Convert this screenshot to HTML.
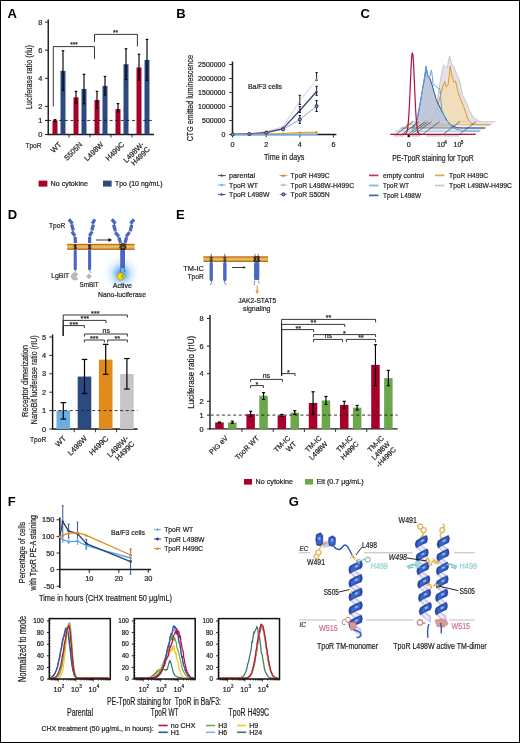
<!DOCTYPE html>
<html><head><meta charset="utf-8"><style>
html,body{margin:0;padding:0;background:#fff;}
#fig{position:relative;width:520px;height:743px;box-sizing:border-box;border:1px solid #000;overflow:hidden;background:#fff;}
#fig svg{position:absolute;left:-1px;top:-1px;will-change:transform;}
text{font-family:"Liberation Sans", sans-serif;}
</style></head><body><div id="fig">
<svg width="520" height="743" viewBox="0 0 520 743">
<defs>
<radialGradient id="glow" cx="50%" cy="50%" r="50%"><stop offset="0%" stop-color="#3ea2f0" stop-opacity="1"/><stop offset="25%" stop-color="#62b4f4" stop-opacity="0.85"/><stop offset="55%" stop-color="#a6d4f8" stop-opacity="0.45"/><stop offset="100%" stop-color="#e4f2fd" stop-opacity="0"/></radialGradient>
<linearGradient id="memb" x1="0" y1="0" x2="0" y2="1"><stop offset="0" stop-color="#c0631c"/><stop offset="0.18" stop-color="#c8751f"/><stop offset="0.3" stop-color="#d3aa48"/><stop offset="0.5" stop-color="#dcbd5e"/><stop offset="0.7" stop-color="#d3aa48"/><stop offset="0.82" stop-color="#c8751f"/><stop offset="1" stop-color="#c0631c"/></linearGradient>
</defs>
<text x="7.60" y="18.40" font-size="13.0" text-anchor="start" fill="#000" font-weight="bold">A</text>
<text x="176.20" y="18.40" font-size="13.0" text-anchor="start" fill="#000" font-weight="bold">B</text>
<text x="360.60" y="18.40" font-size="13.0" text-anchor="start" fill="#000" font-weight="bold">C</text>
<text x="7.70" y="218.90" font-size="13.0" text-anchor="start" fill="#000" font-weight="bold">D</text>
<text x="176.00" y="219.00" font-size="13.0" text-anchor="start" fill="#000" font-weight="bold">E</text>
<text x="7.70" y="505.90" font-size="13.0" text-anchor="start" fill="#000" font-weight="bold">F</text>
<text x="288.80" y="506.30" font-size="13.0" text-anchor="start" fill="#000" font-weight="bold">G</text>
<line x1="48.25" y1="19.40" x2="48.25" y2="135.10" stroke="#1a1a1a" stroke-width="1.4"/>
<line x1="45.00" y1="134.50" x2="48.00" y2="134.50" stroke="#231f20" stroke-width="1.0"/>
<text x="42.40" y="137.10" font-size="7.4" text-anchor="end" fill="#231f20" stroke="#231f20" stroke-width="0.22">0</text>
<line x1="45.00" y1="120.45" x2="48.00" y2="120.45" stroke="#231f20" stroke-width="1.0"/>
<text x="42.40" y="123.05" font-size="7.4" text-anchor="end" fill="#231f20" stroke="#231f20" stroke-width="0.22">1</text>
<line x1="45.00" y1="106.40" x2="48.00" y2="106.40" stroke="#231f20" stroke-width="1.0"/>
<text x="42.40" y="109.00" font-size="7.4" text-anchor="end" fill="#231f20" stroke="#231f20" stroke-width="0.22">2</text>
<line x1="45.00" y1="78.30" x2="48.00" y2="78.30" stroke="#231f20" stroke-width="1.0"/>
<text x="42.40" y="80.90" font-size="7.4" text-anchor="end" fill="#231f20" stroke="#231f20" stroke-width="0.22">4</text>
<line x1="45.00" y1="50.20" x2="48.00" y2="50.20" stroke="#231f20" stroke-width="1.0"/>
<text x="42.40" y="52.80" font-size="7.4" text-anchor="end" fill="#231f20" stroke="#231f20" stroke-width="0.22">6</text>
<line x1="45.00" y1="22.10" x2="48.00" y2="22.10" stroke="#231f20" stroke-width="1.0"/>
<text x="42.40" y="24.70" font-size="7.4" text-anchor="end" fill="#231f20" stroke="#231f20" stroke-width="0.22">8</text>
<line x1="47.50" y1="134.50" x2="154.00" y2="134.50" stroke="#1a1a1a" stroke-width="1.4"/>
<line x1="69.00" y1="134.50" x2="69.00" y2="137.50" stroke="#231f20" stroke-width="0.9"/>
<line x1="90.00" y1="134.50" x2="90.00" y2="137.50" stroke="#231f20" stroke-width="0.9"/>
<line x1="111.00" y1="134.50" x2="111.00" y2="137.50" stroke="#231f20" stroke-width="0.9"/>
<line x1="132.00" y1="134.50" x2="132.00" y2="137.50" stroke="#231f20" stroke-width="0.9"/>
<rect x="52.50" y="120.45" width="5.00" height="14.05" fill="#a6002b"/>
<line x1="55.00" y1="119.61" x2="55.00" y2="121.29" stroke="#000" stroke-width="1.15"/>
<line x1="53.70" y1="119.61" x2="56.30" y2="119.61" stroke="#000" stroke-width="1.15"/>
<line x1="53.70" y1="121.29" x2="56.30" y2="121.29" stroke="#000" stroke-width="1.15"/>
<rect x="60.50" y="70.85" width="5.00" height="63.65" fill="#2c4a82"/>
<line x1="63.00" y1="50.76" x2="63.00" y2="90.38" stroke="#000" stroke-width="1.15"/>
<line x1="61.70" y1="50.76" x2="64.30" y2="50.76" stroke="#000" stroke-width="1.15"/>
<line x1="61.70" y1="90.38" x2="64.30" y2="90.38" stroke="#000" stroke-width="1.15"/>
<rect x="73.50" y="97.41" width="5.00" height="37.09" fill="#a6002b"/>
<line x1="76.00" y1="91.37" x2="76.00" y2="103.31" stroke="#000" stroke-width="1.15"/>
<line x1="74.70" y1="91.37" x2="77.30" y2="91.37" stroke="#000" stroke-width="1.15"/>
<line x1="74.70" y1="103.31" x2="77.30" y2="103.31" stroke="#000" stroke-width="1.15"/>
<rect x="81.50" y="88.98" width="5.00" height="45.52" fill="#2c4a82"/>
<line x1="84.00" y1="74.23" x2="84.00" y2="103.73" stroke="#000" stroke-width="1.15"/>
<line x1="82.70" y1="74.23" x2="85.30" y2="74.23" stroke="#000" stroke-width="1.15"/>
<line x1="82.70" y1="103.73" x2="85.30" y2="103.73" stroke="#000" stroke-width="1.15"/>
<rect x="94.50" y="99.94" width="5.00" height="34.56" fill="#a6002b"/>
<line x1="97.00" y1="91.37" x2="97.00" y2="108.37" stroke="#000" stroke-width="1.15"/>
<line x1="95.70" y1="91.37" x2="98.30" y2="91.37" stroke="#000" stroke-width="1.15"/>
<line x1="95.70" y1="108.37" x2="98.30" y2="108.37" stroke="#000" stroke-width="1.15"/>
<rect x="102.50" y="85.89" width="5.00" height="48.61" fill="#2c4a82"/>
<line x1="105.00" y1="76.47" x2="105.00" y2="94.88" stroke="#000" stroke-width="1.15"/>
<line x1="103.70" y1="76.47" x2="106.30" y2="76.47" stroke="#000" stroke-width="1.15"/>
<line x1="103.70" y1="94.88" x2="106.30" y2="94.88" stroke="#000" stroke-width="1.15"/>
<rect x="115.50" y="109.07" width="5.00" height="25.43" fill="#a6002b"/>
<line x1="118.00" y1="103.59" x2="118.00" y2="112.02" stroke="#000" stroke-width="1.15"/>
<line x1="116.70" y1="103.59" x2="119.30" y2="103.59" stroke="#000" stroke-width="1.15"/>
<line x1="116.70" y1="112.02" x2="119.30" y2="112.02" stroke="#000" stroke-width="1.15"/>
<rect x="123.50" y="64.25" width="5.00" height="70.25" fill="#2c4a82"/>
<line x1="126.00" y1="48.80" x2="126.00" y2="79.56" stroke="#000" stroke-width="1.15"/>
<line x1="124.70" y1="48.80" x2="127.30" y2="48.80" stroke="#000" stroke-width="1.15"/>
<line x1="124.70" y1="79.56" x2="127.30" y2="79.56" stroke="#000" stroke-width="1.15"/>
<rect x="136.50" y="67.48" width="5.00" height="67.02" fill="#a6002b"/>
<line x1="139.00" y1="54.27" x2="139.00" y2="80.27" stroke="#000" stroke-width="1.15"/>
<line x1="137.70" y1="54.27" x2="140.30" y2="54.27" stroke="#000" stroke-width="1.15"/>
<line x1="137.70" y1="80.27" x2="140.30" y2="80.27" stroke="#000" stroke-width="1.15"/>
<rect x="144.50" y="59.89" width="5.00" height="74.61" fill="#2c4a82"/>
<line x1="147.00" y1="39.38" x2="147.00" y2="80.27" stroke="#000" stroke-width="1.15"/>
<line x1="145.70" y1="39.38" x2="148.30" y2="39.38" stroke="#000" stroke-width="1.15"/>
<line x1="145.70" y1="80.27" x2="148.30" y2="80.27" stroke="#000" stroke-width="1.15"/>
<line x1="48.00" y1="120.45" x2="154.00" y2="120.45" stroke="#231f20" stroke-width="0.9" stroke-dasharray="3 2.6"/>
<polyline points="53.30,106.50 53.30,46.60 94.50,46.60 94.50,59.00" stroke="#231f20" fill="none" stroke-width="0.9" stroke-linejoin="round" stroke-linejoin="miter"/>
<text x="74.00" y="47.20" font-size="6.5" text-anchor="middle" fill="#231f20" stroke="#231f20" stroke-width="0.22">***</text>
<polyline points="94.50,42.00 94.50,34.40 137.40,34.40 137.40,46.40" stroke="#231f20" fill="none" stroke-width="0.9" stroke-linejoin="round" stroke-linejoin="miter"/>
<text x="115.50" y="35.00" font-size="6.5" text-anchor="middle" fill="#231f20" stroke="#231f20" stroke-width="0.22">**</text>
<text x="32.40" y="77.00" font-size="9.0" text-anchor="middle" fill="#231f20" stroke="#231f20" stroke-width="0.22" textLength="64" lengthAdjust="spacingAndGlyphs" transform="rotate(-90 32.40 77.00)">Luciferase ratio (rlu)</text>
<text x="25.40" y="148.40" font-size="7.8" text-anchor="start" fill="#231f20" stroke="#231f20" stroke-width="0.22" textLength="16.2" lengthAdjust="spacingAndGlyphs">TpoR</text>
<text x="61.90" y="145.00" font-size="7.4" text-anchor="end" fill="#231f20" stroke="#231f20" stroke-width="0.22" transform="rotate(-45 61.90 145.00)">WT</text>
<text x="82.90" y="145.00" font-size="7.4" text-anchor="end" fill="#231f20" stroke="#231f20" stroke-width="0.22" transform="rotate(-45 82.90 145.00)">S505N</text>
<text x="103.90" y="145.00" font-size="7.4" text-anchor="end" fill="#231f20" stroke="#231f20" stroke-width="0.22" transform="rotate(-45 103.90 145.00)">L498W</text>
<text x="124.90" y="145.00" font-size="7.4" text-anchor="end" fill="#231f20" stroke="#231f20" stroke-width="0.22" transform="rotate(-45 124.90 145.00)">H499C</text>
<text x="144.60" y="145.00" font-size="7.4" text-anchor="end" fill="#231f20" stroke="#231f20" stroke-width="0.22" transform="rotate(-45 144.60 145.00)">L498W-</text>
<text x="150.40" y="149.80" font-size="7.4" text-anchor="end" fill="#231f20" stroke="#231f20" stroke-width="0.22" transform="rotate(-45 150.40 149.80)">H499C</text>
<rect x="38.60" y="180.60" width="8.80" height="6.00" fill="#a6002b"/>
<text x="50.60" y="186.20" font-size="7.2" text-anchor="start" fill="#231f20" stroke="#231f20" stroke-width="0.22" textLength="37.4" lengthAdjust="spacingAndGlyphs">No cytokine</text>
<rect x="103.00" y="180.60" width="8.60" height="6.00" fill="#2c4a82"/>
<text x="115.00" y="186.20" font-size="7.2" text-anchor="start" fill="#231f20" stroke="#231f20" stroke-width="0.22" textLength="47.6" lengthAdjust="spacingAndGlyphs">Tpo (10 ng/mL)</text>
<line x1="232.50" y1="61.60" x2="232.50" y2="135.10" stroke="#1a1a1a" stroke-width="1.5"/>
<line x1="229.20" y1="134.50" x2="232.60" y2="134.50" stroke="#231f20" stroke-width="0.9"/>
<text x="225.40" y="136.90" font-size="7.0" text-anchor="end" fill="#231f20" stroke="#231f20" stroke-width="0.22" textLength="3.9" lengthAdjust="spacingAndGlyphs">0</text>
<line x1="229.20" y1="120.50" x2="232.60" y2="120.50" stroke="#231f20" stroke-width="0.9"/>
<text x="225.40" y="122.90" font-size="7.0" text-anchor="end" fill="#231f20" stroke="#231f20" stroke-width="0.22" textLength="23.4" lengthAdjust="spacingAndGlyphs">500000</text>
<line x1="229.20" y1="106.50" x2="232.60" y2="106.50" stroke="#231f20" stroke-width="0.9"/>
<text x="225.40" y="108.90" font-size="7.0" text-anchor="end" fill="#231f20" stroke="#231f20" stroke-width="0.22" textLength="27.3" lengthAdjust="spacingAndGlyphs">1000000</text>
<line x1="229.20" y1="92.50" x2="232.60" y2="92.50" stroke="#231f20" stroke-width="0.9"/>
<text x="225.40" y="94.90" font-size="7.0" text-anchor="end" fill="#231f20" stroke="#231f20" stroke-width="0.22" textLength="27.3" lengthAdjust="spacingAndGlyphs">1500000</text>
<line x1="229.20" y1="78.50" x2="232.60" y2="78.50" stroke="#231f20" stroke-width="0.9"/>
<text x="225.40" y="80.90" font-size="7.0" text-anchor="end" fill="#231f20" stroke="#231f20" stroke-width="0.22" textLength="27.3" lengthAdjust="spacingAndGlyphs">2000000</text>
<line x1="229.20" y1="64.50" x2="232.60" y2="64.50" stroke="#231f20" stroke-width="0.9"/>
<text x="225.40" y="66.90" font-size="7.0" text-anchor="end" fill="#231f20" stroke="#231f20" stroke-width="0.22" textLength="27.3" lengthAdjust="spacingAndGlyphs">2500000</text>
<line x1="232.10" y1="134.50" x2="336.40" y2="134.50" stroke="#1a1a1a" stroke-width="1.5"/>
<line x1="232.60" y1="134.50" x2="232.60" y2="137.50" stroke="#231f20" stroke-width="0.9"/>
<text x="232.60" y="147.40" font-size="7.2" text-anchor="middle" fill="#231f20" stroke="#231f20" stroke-width="0.22">0</text>
<line x1="266.20" y1="134.50" x2="266.20" y2="137.50" stroke="#231f20" stroke-width="0.9"/>
<text x="266.20" y="147.40" font-size="7.2" text-anchor="middle" fill="#231f20" stroke="#231f20" stroke-width="0.22">2</text>
<line x1="299.80" y1="134.50" x2="299.80" y2="137.50" stroke="#231f20" stroke-width="0.9"/>
<text x="299.80" y="147.40" font-size="7.2" text-anchor="middle" fill="#231f20" stroke="#231f20" stroke-width="0.22">4</text>
<line x1="333.40" y1="134.50" x2="333.40" y2="137.50" stroke="#231f20" stroke-width="0.9"/>
<text x="333.40" y="147.40" font-size="7.2" text-anchor="middle" fill="#231f20" stroke="#231f20" stroke-width="0.22">6</text>
<polyline points="232.60,134.30 249.40,133.60 266.20,131.60 283.00,126.80 299.80,100.90 316.60,79.10" stroke="#c3c3c6" fill="none" stroke-width="0.8" stroke-linejoin="round"/>
<polyline points="232.60,134.40 249.40,134.00 266.20,132.60 283.00,129.30 299.80,119.50 316.60,106.10" stroke="#8f84d6" fill="none" stroke-width="0.9" stroke-linejoin="round"/>
<polyline points="232.60,134.40 249.40,134.00 266.20,132.60 283.00,128.60 299.80,110.50 316.60,91.50" stroke="#2c4a82" fill="none" stroke-width="1.3" stroke-linejoin="round"/>
<polyline points="232.60,134.50 249.40,134.30 266.20,134.00 283.00,133.50 299.80,132.50 316.60,132.20" stroke="#e39a2c" fill="none" stroke-width="1.2" stroke-linejoin="round"/>
<polyline points="232.60,134.60 249.40,134.60 266.20,134.60 283.00,134.60 299.80,134.60 316.60,134.60" stroke="#6caee2" fill="none" stroke-width="1.2" stroke-linejoin="round"/>
<line x1="299.80" y1="95.30" x2="299.80" y2="104.40" stroke="#000" stroke-width="0.9"/>
<line x1="298.60" y1="95.30" x2="301.00" y2="95.30" stroke="#000" stroke-width="0.9"/>
<line x1="298.60" y1="104.40" x2="301.00" y2="104.40" stroke="#000" stroke-width="0.9"/>
<line x1="316.60" y1="72.60" x2="316.60" y2="80.20" stroke="#000" stroke-width="0.9"/>
<line x1="315.40" y1="72.60" x2="317.80" y2="72.60" stroke="#000" stroke-width="0.9"/>
<line x1="315.40" y1="80.20" x2="317.80" y2="80.20" stroke="#000" stroke-width="0.9"/>
<line x1="299.80" y1="106.60" x2="299.80" y2="112.60" stroke="#000" stroke-width="0.9"/>
<line x1="298.60" y1="106.60" x2="301.00" y2="106.60" stroke="#000" stroke-width="0.9"/>
<line x1="298.60" y1="112.60" x2="301.00" y2="112.60" stroke="#000" stroke-width="0.9"/>
<line x1="316.60" y1="86.40" x2="316.60" y2="95.30" stroke="#000" stroke-width="0.9"/>
<line x1="315.40" y1="86.40" x2="317.80" y2="86.40" stroke="#000" stroke-width="0.9"/>
<line x1="315.40" y1="95.30" x2="317.80" y2="95.30" stroke="#000" stroke-width="0.9"/>
<line x1="299.80" y1="115.50" x2="299.80" y2="123.40" stroke="#000" stroke-width="0.9"/>
<line x1="298.60" y1="115.50" x2="301.00" y2="115.50" stroke="#000" stroke-width="0.9"/>
<line x1="298.60" y1="123.40" x2="301.00" y2="123.40" stroke="#000" stroke-width="0.9"/>
<line x1="316.60" y1="100.60" x2="316.60" y2="111.50" stroke="#000" stroke-width="0.9"/>
<line x1="315.40" y1="100.60" x2="317.80" y2="100.60" stroke="#000" stroke-width="0.9"/>
<line x1="315.40" y1="111.50" x2="317.80" y2="111.50" stroke="#000" stroke-width="0.9"/>
<circle cx="232.60" cy="134.50" r="1.1" fill="#e08b1b"/>
<circle cx="232.60" cy="134.60" r="1.1" fill="#6caee2"/>
<polygon points="232.60,132.80 231.10,135.50 234.10,135.50" fill="#2c4a82" stroke="none" stroke-width="1" stroke-linejoin="round"/>
<line x1="231.30" y1="134.30" x2="233.90" y2="134.30" stroke="#9c9ca0" stroke-width="0.7"/>
<line x1="232.60" y1="133.00" x2="232.60" y2="135.60" stroke="#9c9ca0" stroke-width="0.7"/>
<circle cx="232.60" cy="134.40" r="1.6" fill="#8f84d6" stroke="#1c1c3a" stroke-width="0.8"/>
<circle cx="249.40" cy="134.30" r="1.1" fill="#e08b1b"/>
<circle cx="249.40" cy="134.60" r="1.1" fill="#6caee2"/>
<polygon points="249.40,132.40 247.90,135.10 250.90,135.10" fill="#2c4a82" stroke="none" stroke-width="1" stroke-linejoin="round"/>
<line x1="248.10" y1="133.60" x2="250.70" y2="133.60" stroke="#9c9ca0" stroke-width="0.7"/>
<line x1="249.40" y1="132.30" x2="249.40" y2="134.90" stroke="#9c9ca0" stroke-width="0.7"/>
<circle cx="249.40" cy="134.00" r="1.6" fill="#8f84d6" stroke="#1c1c3a" stroke-width="0.8"/>
<circle cx="266.20" cy="134.00" r="1.1" fill="#e08b1b"/>
<circle cx="266.20" cy="134.60" r="1.1" fill="#6caee2"/>
<polygon points="266.20,131.00 264.70,133.70 267.70,133.70" fill="#2c4a82" stroke="none" stroke-width="1" stroke-linejoin="round"/>
<line x1="264.90" y1="131.60" x2="267.50" y2="131.60" stroke="#9c9ca0" stroke-width="0.7"/>
<line x1="266.20" y1="130.30" x2="266.20" y2="132.90" stroke="#9c9ca0" stroke-width="0.7"/>
<circle cx="266.20" cy="132.60" r="1.6" fill="#8f84d6" stroke="#1c1c3a" stroke-width="0.8"/>
<circle cx="283.00" cy="133.50" r="1.1" fill="#e08b1b"/>
<circle cx="283.00" cy="134.60" r="1.1" fill="#6caee2"/>
<polygon points="283.00,127.00 281.50,129.70 284.50,129.70" fill="#2c4a82" stroke="none" stroke-width="1" stroke-linejoin="round"/>
<line x1="281.70" y1="126.80" x2="284.30" y2="126.80" stroke="#9c9ca0" stroke-width="0.7"/>
<line x1="283.00" y1="125.50" x2="283.00" y2="128.10" stroke="#9c9ca0" stroke-width="0.7"/>
<circle cx="283.00" cy="129.30" r="1.6" fill="#8f84d6" stroke="#1c1c3a" stroke-width="0.8"/>
<circle cx="299.80" cy="132.50" r="1.1" fill="#e08b1b"/>
<circle cx="299.80" cy="134.60" r="1.1" fill="#6caee2"/>
<polygon points="299.80,108.90 298.30,111.60 301.30,111.60" fill="#2c4a82" stroke="none" stroke-width="1" stroke-linejoin="round"/>
<line x1="298.50" y1="100.90" x2="301.10" y2="100.90" stroke="#9c9ca0" stroke-width="0.7"/>
<line x1="299.80" y1="99.60" x2="299.80" y2="102.20" stroke="#9c9ca0" stroke-width="0.7"/>
<circle cx="299.80" cy="119.50" r="1.6" fill="#8f84d6" stroke="#1c1c3a" stroke-width="0.8"/>
<circle cx="316.60" cy="132.20" r="1.1" fill="#e08b1b"/>
<circle cx="316.60" cy="134.60" r="1.1" fill="#6caee2"/>
<polygon points="316.60,89.90 315.10,92.60 318.10,92.60" fill="#2c4a82" stroke="none" stroke-width="1" stroke-linejoin="round"/>
<line x1="315.30" y1="79.10" x2="317.90" y2="79.10" stroke="#9c9ca0" stroke-width="0.7"/>
<line x1="316.60" y1="77.80" x2="316.60" y2="80.40" stroke="#9c9ca0" stroke-width="0.7"/>
<circle cx="316.60" cy="106.10" r="1.6" fill="#8f84d6" stroke="#1c1c3a" stroke-width="0.8"/>
<text x="248.00" y="89.00" font-size="7.2" text-anchor="start" fill="#231f20" stroke="#231f20" stroke-width="0.22" textLength="34" lengthAdjust="spacingAndGlyphs">Ba/F3 cells</text>
<text x="284.20" y="160.10" font-size="9.5" text-anchor="middle" fill="#231f20" stroke="#231f20" stroke-width="0.22" textLength="40.4" lengthAdjust="spacingAndGlyphs">Time in days</text>
<text x="192.80" y="98.20" font-size="9.0" text-anchor="middle" fill="#231f20" stroke="#231f20" stroke-width="0.22" textLength="86.2" lengthAdjust="spacingAndGlyphs" transform="rotate(-90 192.80 98.20)">CTG emitted luminescence</text>
<line x1="218.00" y1="175.60" x2="225.60" y2="175.60" stroke="#3b4a6b" stroke-width="1.0"/>
<polygon points="221.80,174.10 223.30,175.60 221.80,177.10 220.30,175.60" fill="#3b4a6b" stroke="none" stroke-width="1" stroke-linejoin="round"/>
<text x="229.00" y="178.20" font-size="7.6" text-anchor="start" fill="#231f20" stroke="#231f20" stroke-width="0.22" textLength="26" lengthAdjust="spacingAndGlyphs">parental</text>
<line x1="218.00" y1="185.00" x2="225.60" y2="185.00" stroke="#6caee2" stroke-width="1.0"/>
<polygon points="221.80,183.50 223.30,185.00 221.80,186.50 220.30,185.00" fill="#6caee2" stroke="none" stroke-width="1" stroke-linejoin="round"/>
<text x="229.00" y="187.60" font-size="7.6" text-anchor="start" fill="#231f20" stroke="#231f20" stroke-width="0.22" textLength="29" lengthAdjust="spacingAndGlyphs">TpoR WT</text>
<line x1="218.00" y1="194.40" x2="225.60" y2="194.40" stroke="#2c4a82" stroke-width="1.0"/>
<polygon points="221.80,192.70 220.20,195.50 223.40,195.50" fill="#2c4a82" stroke="none" stroke-width="1" stroke-linejoin="round"/>
<text x="229.00" y="197.00" font-size="7.6" text-anchor="start" fill="#231f20" stroke="#231f20" stroke-width="0.22" textLength="40.4" lengthAdjust="spacingAndGlyphs">TpoR L498W</text>
<line x1="279.60" y1="175.60" x2="287.20" y2="175.60" stroke="#e08b1b" stroke-width="1.0"/>
<polygon points="283.40,173.90 281.80,176.70 285.00,176.70" fill="#e08b1b" stroke="none" stroke-width="1" stroke-linejoin="round"/>
<text x="290.60" y="178.20" font-size="7.6" text-anchor="start" fill="#231f20" stroke="#231f20" stroke-width="0.22" textLength="39" lengthAdjust="spacingAndGlyphs">TpoR H499C</text>
<line x1="279.60" y1="185.00" x2="287.20" y2="185.00" stroke="#c3c3c6" stroke-width="1.0"/>
<line x1="281.90" y1="185.00" x2="284.90" y2="185.00" stroke="#b0b0b4" stroke-width="0.8"/>
<line x1="283.40" y1="183.50" x2="283.40" y2="186.50" stroke="#b0b0b4" stroke-width="0.8"/>
<text x="290.60" y="187.60" font-size="7.6" text-anchor="start" fill="#231f20" stroke="#231f20" stroke-width="0.22" textLength="63.5" lengthAdjust="spacingAndGlyphs">TpoR L498W-H499C</text>
<line x1="279.60" y1="194.40" x2="287.20" y2="194.40" stroke="#8f84d6" stroke-width="1.0"/>
<circle cx="283.40" cy="194.40" r="1.6" fill="#8f84d6" stroke="#1c1c3a" stroke-width="0.8"/>
<text x="290.60" y="197.00" font-size="7.6" text-anchor="start" fill="#231f20" stroke="#231f20" stroke-width="0.22" textLength="39" lengthAdjust="spacingAndGlyphs">TpoR S505N</text>
<polygon points="390.20,134.40 474.80,134.40 495.60,121.60 411.00,121.60" fill="#e9eaee" stroke="none" stroke-width="1" stroke-linejoin="round"/>
<polygon points="390.20,134.40 474.80,134.40 480.00,131.20 395.40,131.20" fill="#f3f4f7" stroke="none" stroke-width="1" stroke-linejoin="round"/>
<polygon points="395.40,131.20 480.00,131.20 485.20,128.00 400.60,128.00" fill="#e3e6ec" stroke="none" stroke-width="1" stroke-linejoin="round"/>
<polygon points="400.60,128.00 485.20,128.00 490.40,124.80 405.80,124.80" fill="#f1f2f5" stroke="none" stroke-width="1" stroke-linejoin="round"/>
<polygon points="405.80,124.80 490.40,124.80 495.60,121.60 411.00,121.60" fill="#e4e4e8" stroke="none" stroke-width="1" stroke-linejoin="round"/>
<polygon points="411.00,121.60 425.00,121.50 432.00,119.00 436.00,110.00 440.00,82.30 443.50,64.80 445.50,67.50 447.20,67.50 449.50,56.00 451.50,63.50 454.20,67.50 455.50,71.00 457.60,76.20 459.60,81.00 462.30,94.40 465.70,101.10 469.00,109.20 473.00,117.30 477.10,120.00 479.80,121.40 495.60,121.60" fill="#e3e3e6" stroke="none" stroke-width="1" stroke-linejoin="round"/>
<polyline points="425.00,121.50 432.00,119.00 436.00,110.00 440.00,82.30 443.50,64.80 445.50,67.50 447.20,67.50 449.50,56.00 451.50,63.50 454.20,67.50 455.50,71.00 457.60,76.20 459.60,81.00 462.30,94.40 465.70,101.10 469.00,109.20 473.00,117.30 477.10,120.00 479.80,121.40" stroke="#c2c2c6" fill="none" stroke-width="0.9" stroke-linejoin="round"/>
<polygon points="405.80,124.80 420.00,124.60 428.00,120.50 432.00,118.50 435.40,113.30 438.00,103.80 440.80,94.40 442.80,86.30 444.80,81.60 446.20,87.00 448.20,84.30 450.20,66.20 452.20,76.90 454.20,82.30 455.60,81.00 457.60,90.40 460.30,98.50 463.60,106.50 465.70,111.90 467.70,118.60 470.40,122.70 474.40,124.60 490.40,124.80" fill="#f1dcbb" stroke="none" stroke-width="1" stroke-linejoin="round"/>
<polyline points="420.00,124.60 428.00,120.50 432.00,118.50 435.40,113.30 438.00,103.80 440.80,94.40 442.80,86.30 444.80,81.60 446.20,87.00 448.20,84.30 450.20,66.20 452.20,76.90 454.20,82.30 455.60,81.00 457.60,90.40 460.30,98.50 463.60,106.50 465.70,111.90 467.70,118.60 470.40,122.70 474.40,124.60 490.40,124.80" stroke="#e0962a" fill="none" stroke-width="1.0" stroke-linejoin="round"/>
<polygon points="400.60,128.00 412.00,127.90 416.00,123.60 418.50,113.00 420.60,100.80 422.90,87.00 424.60,77.90 426.10,67.60 428.00,76.70 429.70,77.90 432.00,84.70 434.30,92.80 436.60,100.80 438.90,105.30 440.80,109.20 443.50,114.60 447.50,121.30 451.50,125.40 457.00,127.70 463.60,128.00 485.20,128.00" fill="#b9c3d8" stroke="none" stroke-width="1" stroke-linejoin="round" fill-opacity="0.9"/>
<polyline points="412.00,127.90 416.00,123.60 418.50,113.00 420.60,100.80 422.90,87.00 424.60,77.90 426.10,67.60 428.00,76.70 429.70,77.90 432.00,84.70 434.30,92.80 436.60,100.80 438.90,105.30 440.80,109.20 443.50,114.60 447.50,121.30 451.50,125.40 457.00,127.70 463.60,128.00 485.20,128.00" stroke="#2f5497" fill="none" stroke-width="1.0" stroke-linejoin="round"/>
<polyline points="412.00,131.10 415.50,124.00 417.20,118.00 419.50,106.50 421.70,95.00 423.50,83.60 425.20,72.20 426.10,65.90 427.50,75.60 429.70,76.70 431.50,69.90 433.20,84.70 435.50,85.90 437.80,88.20 440.00,89.30 441.00,101.00 442.00,110.60 446.00,120.00 451.50,126.70 457.00,129.40 463.60,131.10 480.00,131.20" stroke="#5ba3e4" fill="none" stroke-width="1.0" stroke-linejoin="round"/>
<line x1="395.40" y1="131.20" x2="480.00" y2="131.20" stroke="#8fbbe6" stroke-width="0.8"/>
<line x1="400.60" y1="128.00" x2="485.20" y2="128.00" stroke="#5a76b0" stroke-width="0.8"/>
<line x1="405.80" y1="124.80" x2="490.40" y2="124.80" stroke="#e6a84c" stroke-width="0.8"/>
<line x1="411.00" y1="121.60" x2="495.60" y2="121.60" stroke="#cfcfd3" stroke-width="0.8"/>
<line x1="396.00" y1="134.40" x2="413.00" y2="121.60" stroke="#2a2a2a" stroke-width="0.6"/>
<line x1="402.00" y1="134.40" x2="419.00" y2="121.60" stroke="#2a2a2a" stroke-width="0.6"/>
<line x1="408.20" y1="134.40" x2="425.20" y2="121.60" stroke="#2a2a2a" stroke-width="0.6"/>
<line x1="411.00" y1="134.40" x2="428.00" y2="121.60" stroke="#2a2a2a" stroke-width="0.6"/>
<line x1="414.50" y1="134.40" x2="431.50" y2="121.60" stroke="#2a2a2a" stroke-width="0.6"/>
<line x1="422.60" y1="134.40" x2="439.60" y2="121.60" stroke="#2a2a2a" stroke-width="0.6"/>
<line x1="443.00" y1="134.40" x2="460.00" y2="121.60" stroke="#2a2a2a" stroke-width="0.6"/>
<line x1="459.20" y1="134.40" x2="476.20" y2="121.60" stroke="#2a2a2a" stroke-width="0.6"/>
<polyline points="404.00,134.37 404.30,134.35 404.60,134.32 404.90,134.26 405.20,134.17 405.50,134.03 405.80,133.82 406.10,133.49 406.40,133.02 406.70,132.35 407.00,131.41 407.30,130.13 407.60,128.42 407.90,126.20 408.20,123.37 408.50,119.87 408.80,115.65 409.10,110.69 409.40,105.02 409.70,98.74 410.00,91.98 410.30,84.97 410.60,77.96 410.90,71.25 411.20,65.18 411.50,60.05 411.80,56.16 412.10,53.73 412.40,52.90 412.70,53.73 413.00,56.16 413.30,60.05 413.60,65.18 413.90,71.25 414.20,77.96 414.50,84.97 414.80,91.98 415.10,98.74 415.40,105.02 415.70,110.69 416.00,115.65 416.30,119.87 416.60,123.37 416.90,126.20 417.20,128.42 417.50,130.13 417.80,131.41 418.10,132.35 418.40,133.02 418.70,133.49 419.00,133.82 419.30,134.03 419.60,134.17 419.90,134.26 420.20,134.32 420.50,134.35 420.80,134.37 421.10,134.38 421.40,134.39 421.70,134.40 422.00,134.40" stroke="#b3123e" fill="none" stroke-width="1.2" stroke-linejoin="round"/>
<line x1="390.20" y1="134.40" x2="475.60" y2="134.40" stroke="#b3123e" stroke-width="1.2"/>
<line x1="395.00" y1="135.00" x2="395.00" y2="136.60" stroke="#333" stroke-width="0.5"/>
<line x1="397.00" y1="135.00" x2="397.00" y2="136.60" stroke="#333" stroke-width="0.5"/>
<line x1="399.00" y1="135.00" x2="399.00" y2="136.60" stroke="#333" stroke-width="0.5"/>
<line x1="401.00" y1="135.00" x2="401.00" y2="136.60" stroke="#333" stroke-width="0.5"/>
<line x1="403.00" y1="135.00" x2="403.00" y2="136.60" stroke="#333" stroke-width="0.5"/>
<line x1="409.00" y1="135.00" x2="409.00" y2="136.60" stroke="#333" stroke-width="0.5"/>
<line x1="411.00" y1="135.00" x2="411.00" y2="136.60" stroke="#333" stroke-width="0.5"/>
<line x1="413.00" y1="135.00" x2="413.00" y2="136.60" stroke="#333" stroke-width="0.5"/>
<line x1="415.00" y1="135.00" x2="415.00" y2="136.60" stroke="#333" stroke-width="0.5"/>
<line x1="417.00" y1="135.00" x2="417.00" y2="136.60" stroke="#333" stroke-width="0.5"/>
<line x1="419.00" y1="135.00" x2="419.00" y2="136.60" stroke="#333" stroke-width="0.5"/>
<line x1="427.00" y1="135.00" x2="427.00" y2="136.60" stroke="#333" stroke-width="0.5"/>
<line x1="429.00" y1="135.00" x2="429.00" y2="136.60" stroke="#333" stroke-width="0.5"/>
<line x1="431.00" y1="135.00" x2="431.00" y2="136.60" stroke="#333" stroke-width="0.5"/>
<line x1="433.00" y1="135.00" x2="433.00" y2="136.60" stroke="#333" stroke-width="0.5"/>
<line x1="435.00" y1="135.00" x2="435.00" y2="136.60" stroke="#333" stroke-width="0.5"/>
<line x1="437.00" y1="135.00" x2="437.00" y2="136.60" stroke="#333" stroke-width="0.5"/>
<line x1="439.00" y1="135.00" x2="439.00" y2="136.60" stroke="#333" stroke-width="0.5"/>
<line x1="441.00" y1="135.00" x2="441.00" y2="136.60" stroke="#333" stroke-width="0.5"/>
<line x1="444.00" y1="135.00" x2="444.00" y2="136.60" stroke="#333" stroke-width="0.5"/>
<line x1="446.00" y1="135.00" x2="446.00" y2="136.60" stroke="#333" stroke-width="0.5"/>
<line x1="448.00" y1="135.00" x2="448.00" y2="136.60" stroke="#333" stroke-width="0.5"/>
<line x1="450.00" y1="135.00" x2="450.00" y2="136.60" stroke="#333" stroke-width="0.5"/>
<line x1="452.00" y1="135.00" x2="452.00" y2="136.60" stroke="#333" stroke-width="0.5"/>
<line x1="454.00" y1="135.00" x2="454.00" y2="136.60" stroke="#333" stroke-width="0.5"/>
<line x1="456.00" y1="135.00" x2="456.00" y2="136.60" stroke="#333" stroke-width="0.5"/>
<line x1="458.00" y1="135.00" x2="458.00" y2="136.60" stroke="#333" stroke-width="0.5"/>
<rect x="407.60" y="134.80" width="2.20" height="2.40" fill="#111"/>
<text x="408.70" y="147.20" font-size="7.2" text-anchor="middle" fill="#231f20" stroke="#231f20" stroke-width="0.22">0</text>
<text x="437.00" y="147.20" font-size="7.0" text-anchor="start" fill="#231f20" stroke="#231f20" stroke-width="0.22">10</text>
<text x="444.30" y="143.60" font-size="4.6" text-anchor="start" fill="#231f20" stroke="#231f20" stroke-width="0.22">4</text>
<text x="453.50" y="147.20" font-size="7.0" text-anchor="start" fill="#231f20" stroke="#231f20" stroke-width="0.22">10</text>
<text x="460.80" y="143.60" font-size="4.6" text-anchor="start" fill="#231f20" stroke="#231f20" stroke-width="0.22">5</text>
<text x="433.00" y="160.90" font-size="9.6" text-anchor="middle" fill="#231f20" stroke="#231f20" stroke-width="0.22" textLength="81.5" lengthAdjust="spacingAndGlyphs">PE-TpoR staining for TpoR</text>
<line x1="369.00" y1="175.40" x2="378.40" y2="175.40" stroke="#c0375a" stroke-width="1.7"/>
<text x="383.00" y="177.90" font-size="7.4" text-anchor="start" fill="#231f20" stroke="#231f20" stroke-width="0.22" textLength="41" lengthAdjust="spacingAndGlyphs">empty control</text>
<line x1="369.00" y1="185.50" x2="378.40" y2="185.50" stroke="#7ab3e8" stroke-width="1.7"/>
<text x="383.00" y="188.00" font-size="7.4" text-anchor="start" fill="#231f20" stroke="#231f20" stroke-width="0.22" textLength="26" lengthAdjust="spacingAndGlyphs">TpoR WT</text>
<line x1="369.00" y1="195.40" x2="378.40" y2="195.40" stroke="#4a64a0" stroke-width="1.7"/>
<text x="383.00" y="197.90" font-size="7.4" text-anchor="start" fill="#231f20" stroke="#231f20" stroke-width="0.22" textLength="38" lengthAdjust="spacingAndGlyphs">TpoR L498W</text>
<line x1="435.00" y1="175.40" x2="444.40" y2="175.40" stroke="#e8a64a" stroke-width="1.7"/>
<text x="449.00" y="177.90" font-size="7.4" text-anchor="start" fill="#231f20" stroke="#231f20" stroke-width="0.22" textLength="39" lengthAdjust="spacingAndGlyphs">TpoR H499C</text>
<line x1="435.00" y1="185.50" x2="444.40" y2="185.50" stroke="#c8c8cc" stroke-width="1.7"/>
<text x="449.00" y="188.00" font-size="7.4" text-anchor="start" fill="#231f20" stroke="#231f20" stroke-width="0.22" textLength="63" lengthAdjust="spacingAndGlyphs">TpoR L498W-H499C</text>
<rect x="67.10" y="243.80" width="67.60" height="6.10" fill="url(#memb)"/>
<path d="M67.90 245.00V248.70 M69.50 245.00V248.70 M71.10 245.00V248.70 M72.70 245.00V248.70 M74.30 245.00V248.70 M75.90 245.00V248.70 M77.50 245.00V248.70 M79.10 245.00V248.70 M80.70 245.00V248.70 M82.30 245.00V248.70 M83.90 245.00V248.70 M85.50 245.00V248.70 M87.10 245.00V248.70 M88.70 245.00V248.70 M90.30 245.00V248.70 M91.90 245.00V248.70 M93.50 245.00V248.70 M95.10 245.00V248.70 M96.70 245.00V248.70 M98.30 245.00V248.70 M99.90 245.00V248.70 M101.50 245.00V248.70 M103.10 245.00V248.70 M104.70 245.00V248.70 M106.30 245.00V248.70 M107.90 245.00V248.70 M109.50 245.00V248.70 M111.10 245.00V248.70 M112.70 245.00V248.70 M114.30 245.00V248.70 M115.90 245.00V248.70 M117.50 245.00V248.70 M119.10 245.00V248.70 M120.70 245.00V248.70 M122.30 245.00V248.70 M123.90 245.00V248.70 M125.50 245.00V248.70 M127.10 245.00V248.70 M128.70 245.00V248.70 M130.30 245.00V248.70 M131.90 245.00V248.70 M133.50 245.00V248.70" stroke="#f3dc8e" fill="none" stroke-width="0.5" stroke-opacity="0.6"/>
<line x1="68.80" y1="219.40" x2="72.50" y2="223.60" stroke="#4a68c2" stroke-width="3.3" stroke-linecap="butt"/>
<line x1="71.60" y1="224.60" x2="73.40" y2="230.40" stroke="#4a68c2" stroke-width="3.3" stroke-linecap="butt"/>
<line x1="72.00" y1="231.60" x2="75.00" y2="236.00" stroke="#4a68c2" stroke-width="3.3" stroke-linecap="butt"/>
<line x1="75.10" y1="237.00" x2="75.40" y2="243.00" stroke="#4a68c2" stroke-width="3.3" stroke-linecap="butt"/>
<line x1="72.50" y1="223.60" x2="71.60" y2="224.60" stroke="#333" stroke-width="0.6"/>
<line x1="73.40" y1="230.40" x2="72.00" y2="231.60" stroke="#333" stroke-width="0.6"/>
<line x1="75.00" y1="236.00" x2="75.10" y2="237.00" stroke="#333" stroke-width="0.6"/>
<line x1="75.25" y1="251.00" x2="75.25" y2="268.80" stroke="#4a68c2" stroke-width="3.1" stroke-linecap="round"/>
<line x1="73.65" y1="245.30" x2="76.85" y2="245.80" stroke="#1a1a1a" stroke-width="0.9"/>
<line x1="73.65" y1="246.80" x2="76.85" y2="247.30" stroke="#1a1a1a" stroke-width="0.9"/>
<line x1="73.65" y1="248.30" x2="76.85" y2="248.80" stroke="#1a1a1a" stroke-width="0.9"/>
<line x1="75.25" y1="244.00" x2="75.25" y2="249.50" stroke="#3a2a10" stroke-width="1.6"/>
<path d="M75.2 269.2 q1.2 1.5 -0.4 3.0" stroke="#555" fill="none" stroke-width="0.6"/>
<path d="M78.0 274.2 A3.7 3.7 0 1 0 78.0 278.6 L75.6 276.4 Z" stroke="#8a8a8a" fill="#b9b9b9" stroke-width="0.4"/>
<line x1="95.00" y1="219.40" x2="92.20" y2="223.60" stroke="#4a68c2" stroke-width="3.3" stroke-linecap="butt"/>
<line x1="93.40" y1="224.60" x2="91.80" y2="230.40" stroke="#4a68c2" stroke-width="3.3" stroke-linecap="butt"/>
<line x1="92.20" y1="231.60" x2="89.40" y2="236.00" stroke="#4a68c2" stroke-width="3.3" stroke-linecap="butt"/>
<line x1="89.60" y1="237.00" x2="89.60" y2="243.00" stroke="#4a68c2" stroke-width="3.3" stroke-linecap="butt"/>
<line x1="92.20" y1="223.60" x2="93.40" y2="224.60" stroke="#333" stroke-width="0.6"/>
<line x1="91.80" y1="230.40" x2="92.20" y2="231.60" stroke="#333" stroke-width="0.6"/>
<line x1="89.40" y1="236.00" x2="89.60" y2="237.00" stroke="#333" stroke-width="0.6"/>
<line x1="89.60" y1="251.00" x2="89.60" y2="268.80" stroke="#4a68c2" stroke-width="3.1" stroke-linecap="round"/>
<line x1="88.00" y1="245.30" x2="91.20" y2="245.80" stroke="#1a1a1a" stroke-width="0.9"/>
<line x1="88.00" y1="246.80" x2="91.20" y2="247.30" stroke="#1a1a1a" stroke-width="0.9"/>
<line x1="88.00" y1="248.30" x2="91.20" y2="248.80" stroke="#1a1a1a" stroke-width="0.9"/>
<line x1="89.60" y1="244.00" x2="89.60" y2="249.50" stroke="#3a2a10" stroke-width="1.6"/>
<path d="M89.6 269.2 q-1.0 1.6 0.8 2.6 q1 0.6 0.3 1.6" stroke="#555" fill="none" stroke-width="0.6"/>
<polygon points="89.00,274.00 91.40,276.40 89.00,278.80 86.60,276.40" fill="#b9b9b9" stroke="#8a8a8a" stroke-width="0.4" stroke-linejoin="round"/>
<line x1="96.20" y1="240.00" x2="109.00" y2="240.00" stroke="#444" stroke-width="1.1"/>
<polygon points="112.20,240.00 108.40,238.00 108.40,242.00" fill="#111" stroke="none" stroke-width="1" stroke-linejoin="round"/>
<circle cx="121.4" cy="273.6" r="19" fill="url(#glow)"/>
<line x1="111.80" y1="219.40" x2="115.40" y2="223.60" stroke="#4a68c2" stroke-width="3.3" stroke-linecap="butt"/>
<line x1="113.60" y1="224.80" x2="115.40" y2="231.00" stroke="#4a68c2" stroke-width="3.3" stroke-linecap="butt"/>
<line x1="115.20" y1="232.30" x2="118.80" y2="236.40" stroke="#4a68c2" stroke-width="3.3" stroke-linecap="butt"/>
<line x1="118.80" y1="237.30" x2="120.60" y2="243.00" stroke="#4a68c2" stroke-width="3.3" stroke-linecap="butt"/>
<line x1="115.40" y1="223.60" x2="113.60" y2="224.80" stroke="#333" stroke-width="0.6"/>
<line x1="115.40" y1="231.00" x2="115.20" y2="232.30" stroke="#333" stroke-width="0.6"/>
<line x1="118.80" y1="236.40" x2="118.80" y2="237.30" stroke="#333" stroke-width="0.6"/>
<line x1="134.00" y1="219.40" x2="130.60" y2="223.60" stroke="#4a68c2" stroke-width="3.3" stroke-linecap="butt"/>
<line x1="131.80" y1="224.80" x2="130.20" y2="231.00" stroke="#4a68c2" stroke-width="3.3" stroke-linecap="butt"/>
<line x1="129.60" y1="232.30" x2="126.20" y2="236.40" stroke="#4a68c2" stroke-width="3.3" stroke-linecap="butt"/>
<line x1="126.60" y1="237.30" x2="125.00" y2="243.00" stroke="#4a68c2" stroke-width="3.3" stroke-linecap="butt"/>
<line x1="130.60" y1="223.60" x2="131.80" y2="224.80" stroke="#333" stroke-width="0.6"/>
<line x1="130.20" y1="231.00" x2="129.60" y2="232.30" stroke="#333" stroke-width="0.6"/>
<line x1="126.20" y1="236.40" x2="126.60" y2="237.30" stroke="#333" stroke-width="0.6"/>
<line x1="122.60" y1="250.00" x2="122.60" y2="268.40" stroke="#4a68c2" stroke-width="4.8" stroke-linecap="butt"/>
<rect x="119.60" y="243.90" width="6.60" height="5.80" fill="#2b1d0c" opacity="0.45"/>
<path d="M119.6 244.2 l2.8 1.6 l-2.8 1.6 l2.8 1.6 M126.2 244.2 l-2.8 1.6 l2.8 1.6 l-2.8 1.6 M121.0 243.8 l4.0 0 M121.0 249.4 l4.0 0" stroke="#111" fill="none" stroke-width="0.9"/>
<path d="M121.0 268.6 q-1.6 1.4 -0.6 3.6 M124.0 268.6 q1.6 1.4 0.4 3.6" stroke="#333" fill="none" stroke-width="0.6"/>
<path d="M123.6 274.3 A3.7 3.7 0 1 0 123.6 278.7 L121.2 276.5 Z" stroke="#6b5a00" fill="#f7d500" stroke-width="0.35"/>
<circle cx="123.9" cy="276.5" r="1.5" fill="#f7d500" stroke="#6b5a00" stroke-width="0.3"/>
<text x="65.20" y="227.60" font-size="7.6" text-anchor="end" fill="#231f20" stroke="#231f20" stroke-width="0.22" textLength="16.2" lengthAdjust="spacingAndGlyphs">TpoR</text>
<text x="69.20" y="278.40" font-size="7.6" text-anchor="end" fill="#231f20" stroke="#231f20" stroke-width="0.22" textLength="18" lengthAdjust="spacingAndGlyphs">LgBiT</text>
<text x="79.60" y="287.20" font-size="7.6" text-anchor="start" fill="#231f20" stroke="#231f20" stroke-width="0.22" textLength="19" lengthAdjust="spacingAndGlyphs">SmBiT</text>
<text x="122.30" y="288.20" font-size="7.6" text-anchor="middle" fill="#231f20" stroke="#231f20" stroke-width="0.22" textLength="19.2" lengthAdjust="spacingAndGlyphs">Active</text>
<text x="122.00" y="296.60" font-size="7.6" text-anchor="middle" fill="#231f20" stroke="#231f20" stroke-width="0.22" textLength="48" lengthAdjust="spacingAndGlyphs">Nano-luciferase</text>
<line x1="52.60" y1="334.40" x2="52.60" y2="429.60" stroke="#1a1a1a" stroke-width="1.4"/>
<line x1="49.40" y1="429.00" x2="53.00" y2="429.00" stroke="#231f20" stroke-width="1.0"/>
<text x="46.20" y="431.60" font-size="7.4" text-anchor="end" fill="#231f20" stroke="#231f20" stroke-width="0.22">0</text>
<line x1="49.40" y1="410.60" x2="53.00" y2="410.60" stroke="#231f20" stroke-width="1.0"/>
<text x="46.20" y="413.20" font-size="7.4" text-anchor="end" fill="#231f20" stroke="#231f20" stroke-width="0.22">1</text>
<line x1="49.40" y1="392.20" x2="53.00" y2="392.20" stroke="#231f20" stroke-width="1.0"/>
<text x="46.20" y="394.80" font-size="7.4" text-anchor="end" fill="#231f20" stroke="#231f20" stroke-width="0.22">2</text>
<line x1="49.40" y1="373.80" x2="53.00" y2="373.80" stroke="#231f20" stroke-width="1.0"/>
<text x="46.20" y="376.40" font-size="7.4" text-anchor="end" fill="#231f20" stroke="#231f20" stroke-width="0.22">3</text>
<line x1="49.40" y1="355.40" x2="53.00" y2="355.40" stroke="#231f20" stroke-width="1.0"/>
<text x="46.20" y="358.00" font-size="7.4" text-anchor="end" fill="#231f20" stroke="#231f20" stroke-width="0.22">4</text>
<line x1="49.40" y1="337.00" x2="53.00" y2="337.00" stroke="#231f20" stroke-width="1.0"/>
<text x="46.20" y="339.60" font-size="7.4" text-anchor="end" fill="#231f20" stroke="#231f20" stroke-width="0.22">5</text>
<line x1="52.50" y1="429.00" x2="137.60" y2="429.00" stroke="#1a1a1a" stroke-width="1.4"/>
<line x1="74.20" y1="429.00" x2="74.20" y2="432.20" stroke="#231f20" stroke-width="0.9"/>
<line x1="95.40" y1="429.00" x2="95.40" y2="432.20" stroke="#231f20" stroke-width="0.9"/>
<line x1="116.60" y1="429.00" x2="116.60" y2="432.20" stroke="#231f20" stroke-width="0.9"/>
<rect x="56.50" y="410.60" width="13.60" height="18.40" fill="#6caee2"/>
<rect x="77.70" y="376.56" width="13.60" height="52.44" fill="#2c4a82"/>
<rect x="98.90" y="359.63" width="13.60" height="69.37" fill="#e08b1b"/>
<rect x="120.10" y="373.98" width="13.60" height="55.02" fill="#c6c5c9"/>
<line x1="53.00" y1="410.60" x2="137.60" y2="410.60" stroke="#231f20" stroke-width="0.9" stroke-dasharray="3 2.6"/>
<line x1="63.30" y1="402.69" x2="63.30" y2="419.06" stroke="#000" stroke-width="1.2"/>
<line x1="60.50" y1="402.69" x2="66.10" y2="402.69" stroke="#000" stroke-width="1.2"/>
<line x1="60.50" y1="419.06" x2="66.10" y2="419.06" stroke="#000" stroke-width="1.2"/>
<line x1="84.50" y1="359.45" x2="84.50" y2="393.49" stroke="#000" stroke-width="1.2"/>
<line x1="81.70" y1="359.45" x2="87.30" y2="359.45" stroke="#000" stroke-width="1.2"/>
<line x1="81.70" y1="393.49" x2="87.30" y2="393.49" stroke="#000" stroke-width="1.2"/>
<line x1="105.70" y1="344.36" x2="105.70" y2="374.35" stroke="#000" stroke-width="1.2"/>
<line x1="102.90" y1="344.36" x2="108.50" y2="344.36" stroke="#000" stroke-width="1.2"/>
<line x1="102.90" y1="374.35" x2="108.50" y2="374.35" stroke="#000" stroke-width="1.2"/>
<line x1="126.90" y1="358.53" x2="126.90" y2="389.07" stroke="#000" stroke-width="1.2"/>
<line x1="124.10" y1="358.53" x2="129.70" y2="358.53" stroke="#000" stroke-width="1.2"/>
<line x1="124.10" y1="389.07" x2="129.70" y2="389.07" stroke="#000" stroke-width="1.2"/>
<polyline points="63.20,336.00 63.20,315.00 127.40,315.00 127.40,317.60" stroke="#231f20" fill="none" stroke-width="0.9" stroke-linejoin="round" stroke-linejoin="miter"/>
<polyline points="63.20,336.00 63.20,320.40 106.00,320.40 106.00,323.00" stroke="#231f20" fill="none" stroke-width="0.9" stroke-linejoin="round" stroke-linejoin="miter"/>
<polyline points="63.20,336.00 63.20,325.60 84.40,325.60 84.40,328.00" stroke="#231f20" fill="none" stroke-width="0.9" stroke-linejoin="round" stroke-linejoin="miter"/>
<text x="95.30" y="316.00" font-size="7.2" text-anchor="middle" fill="#231f20" stroke="#231f20" stroke-width="0.22">***</text>
<text x="84.80" y="321.40" font-size="7.2" text-anchor="middle" fill="#231f20" stroke="#231f20" stroke-width="0.22">***</text>
<text x="73.80" y="326.60" font-size="7.2" text-anchor="middle" fill="#231f20" stroke="#231f20" stroke-width="0.22">***</text>
<polyline points="84.40,336.60 84.40,334.00 127.40,334.00 127.40,336.60" stroke="#231f20" fill="none" stroke-width="0.9" stroke-linejoin="round" stroke-linejoin="miter"/>
<text x="106.20" y="333.20" font-size="6.9" text-anchor="middle" fill="#231f20" stroke="#231f20" stroke-width="0.22">ns</text>
<polyline points="84.40,342.40 84.40,340.00 104.40,340.00 104.40,342.40" stroke="#231f20" fill="none" stroke-width="0.9" stroke-linejoin="round" stroke-linejoin="miter"/>
<polyline points="107.60,342.40 107.60,340.00 127.40,340.00 127.40,342.40" stroke="#231f20" fill="none" stroke-width="0.9" stroke-linejoin="round" stroke-linejoin="miter"/>
<text x="94.20" y="340.60" font-size="7.2" text-anchor="middle" fill="#231f20" stroke="#231f20" stroke-width="0.22">***</text>
<text x="117.20" y="340.60" font-size="7.2" text-anchor="middle" fill="#231f20" stroke="#231f20" stroke-width="0.22">**</text>
<text x="28.30" y="381.00" font-size="9.0" text-anchor="middle" fill="#231f20" stroke="#231f20" stroke-width="0.22" textLength="71.8" lengthAdjust="spacingAndGlyphs" transform="rotate(-90 28.30 381.00)">Receptor dimerization</text>
<text x="36.60" y="379.80" font-size="9.0" text-anchor="middle" fill="#231f20" stroke="#231f20" stroke-width="0.22" textLength="88.8" lengthAdjust="spacingAndGlyphs" transform="rotate(-90 36.60 379.80)">NanoBit luciferase ratio (rIU)</text>
<text x="30.00" y="442.20" font-size="7.6" text-anchor="start" fill="#231f20" stroke="#231f20" stroke-width="0.22" textLength="16.2" lengthAdjust="spacingAndGlyphs">TpoR</text>
<text x="66.50" y="439.00" font-size="7.6" text-anchor="end" fill="#231f20" stroke="#231f20" stroke-width="0.22" transform="rotate(-45 66.50 439.00)">WT</text>
<text x="87.70" y="439.00" font-size="7.6" text-anchor="end" fill="#231f20" stroke="#231f20" stroke-width="0.22" transform="rotate(-45 87.70 439.00)">L498W</text>
<text x="108.90" y="439.00" font-size="7.6" text-anchor="end" fill="#231f20" stroke="#231f20" stroke-width="0.22" transform="rotate(-45 108.90 439.00)">H499C</text>
<text x="129.00" y="439.00" font-size="7.6" text-anchor="end" fill="#231f20" stroke="#231f20" stroke-width="0.22" transform="rotate(-45 129.00 439.00)">L498W-</text>
<text x="135.00" y="444.40" font-size="7.6" text-anchor="end" fill="#231f20" stroke="#231f20" stroke-width="0.22" transform="rotate(-45 135.00 444.40)">H499C</text>
<rect x="203.40" y="256.30" width="64.60" height="5.70" fill="url(#memb)"/>
<path d="M204.20 257.50V260.80 M205.80 257.50V260.80 M207.40 257.50V260.80 M209.00 257.50V260.80 M210.60 257.50V260.80 M212.20 257.50V260.80 M213.80 257.50V260.80 M215.40 257.50V260.80 M217.00 257.50V260.80 M218.60 257.50V260.80 M220.20 257.50V260.80 M221.80 257.50V260.80 M223.40 257.50V260.80 M225.00 257.50V260.80 M226.60 257.50V260.80 M228.20 257.50V260.80 M229.80 257.50V260.80 M231.40 257.50V260.80 M233.00 257.50V260.80 M234.60 257.50V260.80 M236.20 257.50V260.80 M237.80 257.50V260.80 M239.40 257.50V260.80 M241.00 257.50V260.80 M242.60 257.50V260.80 M244.20 257.50V260.80 M245.80 257.50V260.80 M247.40 257.50V260.80 M249.00 257.50V260.80 M250.60 257.50V260.80 M252.20 257.50V260.80 M253.80 257.50V260.80 M255.40 257.50V260.80 M257.00 257.50V260.80 M258.60 257.50V260.80 M260.20 257.50V260.80 M261.80 257.50V260.80 M263.40 257.50V260.80 M265.00 257.50V260.80 M266.60 257.50V260.80" stroke="#f3dc8e" fill="none" stroke-width="0.5" stroke-opacity="0.6"/>
<line x1="211.20" y1="263.40" x2="211.20" y2="279.40" stroke="#4a68c2" stroke-width="3.4" stroke-linecap="round"/>
<line x1="211.20" y1="253.80" x2="211.20" y2="262.00" stroke="#222" stroke-width="0.7"/>
<line x1="209.60" y1="257.40" x2="212.80" y2="257.80" stroke="#1a1a1a" stroke-width="0.8"/>
<line x1="209.60" y1="259.00" x2="212.80" y2="259.40" stroke="#1a1a1a" stroke-width="0.8"/>
<line x1="209.60" y1="260.60" x2="212.80" y2="261.00" stroke="#1a1a1a" stroke-width="0.8"/>
<line x1="224.85" y1="263.40" x2="224.85" y2="279.40" stroke="#4a68c2" stroke-width="3.4" stroke-linecap="round"/>
<line x1="224.85" y1="253.80" x2="224.85" y2="262.00" stroke="#222" stroke-width="0.7"/>
<line x1="223.25" y1="257.40" x2="226.45" y2="257.80" stroke="#1a1a1a" stroke-width="0.8"/>
<line x1="223.25" y1="259.00" x2="226.45" y2="259.40" stroke="#1a1a1a" stroke-width="0.8"/>
<line x1="223.25" y1="260.60" x2="226.45" y2="261.00" stroke="#1a1a1a" stroke-width="0.8"/>
<path d="M211.2 280.4 q1.4 1.8 -0.2 3.2 q-0.8 0.8 -0.2 1.6" stroke="#333" fill="none" stroke-width="0.6"/>
<path d="M224.8 280.4 q-1.4 1.8 0.4 3.0 q1 0.8 0.2 2.0" stroke="#333" fill="none" stroke-width="0.6"/>
<line x1="232.00" y1="267.50" x2="244.00" y2="267.50" stroke="#222" stroke-width="0.9"/>
<polygon points="246.00,267.50 243.20,266.20 243.20,268.80" fill="#222" stroke="none" stroke-width="1" stroke-linejoin="round"/>
<line x1="256.70" y1="262.80" x2="256.70" y2="279.60" stroke="#4a68c2" stroke-width="5.0" stroke-linecap="butt"/>
<rect x="254.2" y="262.2" width="5" height="17.8" rx="1.2" fill="#4a68c2"/>
<line x1="255.00" y1="253.80" x2="255.00" y2="262.00" stroke="#222" stroke-width="0.6"/>
<line x1="258.20" y1="253.80" x2="258.20" y2="262.00" stroke="#222" stroke-width="0.6"/>
<rect x="253.60" y="256.40" width="6.20" height="5.40" fill="#2b1d0c" opacity="0.4"/>
<path d="M253.6 257.2 l2.4 1.6 l-2.4 1.6 l2.4 1.4 M259.8 257.2 l-2.4 1.6 l2.4 1.6 l-2.4 1.4 M255.2 256.6 l1.5 0 M257.6 256.6 l1.5 0 M255.4 261.6 l3.6 0" stroke="#111" fill="none" stroke-width="0.9"/>
<path d="M255.0 280.6 q-1.6 1.6 -0.4 3.0 q0.6 0.8 -0.8 1.8 M258.2 280.6 q1.8 1.4 0.4 3.0" stroke="#333" fill="none" stroke-width="0.6"/>
<line x1="257.20" y1="285.60" x2="257.20" y2="291.20" stroke="#b08a3a" stroke-width="0.9"/>
<polygon points="257.20,294.60 255.30,290.60 259.10,290.60" fill="#e8a21e" stroke="none" stroke-width="1" stroke-linejoin="round"/>
<text x="203.80" y="271.00" font-size="7.6" text-anchor="end" fill="#231f20" stroke="#231f20" stroke-width="0.22" textLength="20.5" lengthAdjust="spacingAndGlyphs">TM-IC</text>
<text x="203.80" y="279.20" font-size="7.6" text-anchor="end" fill="#231f20" stroke="#231f20" stroke-width="0.22" textLength="16.4" lengthAdjust="spacingAndGlyphs">TpoR</text>
<text x="257.20" y="302.50" font-size="7.6" text-anchor="middle" fill="#231f20" stroke="#231f20" stroke-width="0.22" textLength="38" lengthAdjust="spacingAndGlyphs">JAK2-STAT5</text>
<text x="256.70" y="311.10" font-size="7.6" text-anchor="middle" fill="#231f20" stroke="#231f20" stroke-width="0.22" textLength="27.4" lengthAdjust="spacingAndGlyphs">signaling</text>
<line x1="210.00" y1="315.00" x2="210.00" y2="429.50" stroke="#1a1a1a" stroke-width="1.4"/>
<line x1="207.00" y1="428.90" x2="210.00" y2="428.90" stroke="#231f20" stroke-width="1.0"/>
<text x="203.60" y="431.50" font-size="7.4" text-anchor="end" fill="#231f20" stroke="#231f20" stroke-width="0.22">0</text>
<line x1="207.00" y1="415.10" x2="210.00" y2="415.10" stroke="#231f20" stroke-width="1.0"/>
<text x="203.60" y="417.70" font-size="7.4" text-anchor="end" fill="#231f20" stroke="#231f20" stroke-width="0.22">1</text>
<line x1="207.00" y1="401.30" x2="210.00" y2="401.30" stroke="#231f20" stroke-width="1.0"/>
<text x="203.60" y="403.90" font-size="7.4" text-anchor="end" fill="#231f20" stroke="#231f20" stroke-width="0.22">2</text>
<line x1="207.00" y1="373.70" x2="210.00" y2="373.70" stroke="#231f20" stroke-width="1.0"/>
<text x="203.60" y="376.30" font-size="7.4" text-anchor="end" fill="#231f20" stroke="#231f20" stroke-width="0.22">4</text>
<line x1="207.00" y1="346.10" x2="210.00" y2="346.10" stroke="#231f20" stroke-width="1.0"/>
<text x="203.60" y="348.70" font-size="7.4" text-anchor="end" fill="#231f20" stroke="#231f20" stroke-width="0.22">6</text>
<line x1="207.00" y1="318.50" x2="210.00" y2="318.50" stroke="#231f20" stroke-width="1.0"/>
<text x="203.60" y="321.10" font-size="7.4" text-anchor="end" fill="#231f20" stroke="#231f20" stroke-width="0.22">8</text>
<line x1="209.50" y1="428.90" x2="397.60" y2="428.90" stroke="#1a1a1a" stroke-width="1.4"/>
<line x1="242.00" y1="428.90" x2="242.00" y2="432.10" stroke="#231f20" stroke-width="0.9"/>
<line x1="273.20" y1="428.90" x2="273.20" y2="432.10" stroke="#231f20" stroke-width="0.9"/>
<line x1="304.40" y1="428.90" x2="304.40" y2="432.10" stroke="#231f20" stroke-width="0.9"/>
<line x1="335.60" y1="428.90" x2="335.60" y2="432.10" stroke="#231f20" stroke-width="0.9"/>
<line x1="366.80" y1="428.90" x2="366.80" y2="432.10" stroke="#231f20" stroke-width="0.9"/>
<rect x="215.20" y="422.41" width="8.50" height="6.49" fill="#a6002b"/>
<rect x="228.10" y="422.41" width="8.50" height="6.49" fill="#6aa84a"/>
<rect x="246.40" y="414.13" width="8.50" height="14.77" fill="#a6002b"/>
<rect x="259.30" y="395.78" width="8.50" height="33.12" fill="#6aa84a"/>
<rect x="277.60" y="415.51" width="8.50" height="13.39" fill="#a6002b"/>
<rect x="290.50" y="412.62" width="8.50" height="16.28" fill="#6aa84a"/>
<rect x="308.80" y="402.96" width="8.50" height="25.94" fill="#a6002b"/>
<rect x="321.70" y="400.47" width="8.50" height="28.43" fill="#6aa84a"/>
<rect x="340.00" y="404.89" width="8.50" height="24.01" fill="#a6002b"/>
<rect x="352.90" y="407.65" width="8.50" height="21.25" fill="#6aa84a"/>
<rect x="371.20" y="364.87" width="8.50" height="64.03" fill="#a6002b"/>
<rect x="384.10" y="378.12" width="8.50" height="50.78" fill="#6aa84a"/>
<line x1="210.80" y1="415.10" x2="397.60" y2="415.10" stroke="#231f20" stroke-width="0.9" stroke-dasharray="3 2.6"/>
<line x1="219.45" y1="422.00" x2="219.45" y2="422.83" stroke="#000" stroke-width="1.15"/>
<line x1="217.85" y1="422.00" x2="221.05" y2="422.00" stroke="#000" stroke-width="1.15"/>
<line x1="217.85" y1="422.83" x2="221.05" y2="422.83" stroke="#000" stroke-width="1.15"/>
<line x1="232.35" y1="421.17" x2="232.35" y2="423.38" stroke="#000" stroke-width="1.15"/>
<line x1="230.75" y1="421.17" x2="233.95" y2="421.17" stroke="#000" stroke-width="1.15"/>
<line x1="230.75" y1="423.38" x2="233.95" y2="423.38" stroke="#000" stroke-width="1.15"/>
<line x1="250.65" y1="411.24" x2="250.65" y2="416.48" stroke="#000" stroke-width="1.15"/>
<line x1="249.05" y1="411.24" x2="252.25" y2="411.24" stroke="#000" stroke-width="1.15"/>
<line x1="249.05" y1="416.48" x2="252.25" y2="416.48" stroke="#000" stroke-width="1.15"/>
<line x1="263.55" y1="392.61" x2="263.55" y2="399.51" stroke="#000" stroke-width="1.15"/>
<line x1="261.95" y1="392.61" x2="265.15" y2="392.61" stroke="#000" stroke-width="1.15"/>
<line x1="261.95" y1="399.51" x2="265.15" y2="399.51" stroke="#000" stroke-width="1.15"/>
<line x1="281.85" y1="414.41" x2="281.85" y2="416.48" stroke="#000" stroke-width="1.15"/>
<line x1="280.25" y1="414.41" x2="283.45" y2="414.41" stroke="#000" stroke-width="1.15"/>
<line x1="280.25" y1="416.48" x2="283.45" y2="416.48" stroke="#000" stroke-width="1.15"/>
<line x1="294.75" y1="410.68" x2="294.75" y2="414.41" stroke="#000" stroke-width="1.15"/>
<line x1="293.15" y1="410.68" x2="296.35" y2="410.68" stroke="#000" stroke-width="1.15"/>
<line x1="293.15" y1="414.41" x2="296.35" y2="414.41" stroke="#000" stroke-width="1.15"/>
<line x1="313.05" y1="391.78" x2="313.05" y2="414.13" stroke="#000" stroke-width="1.15"/>
<line x1="311.45" y1="391.78" x2="314.65" y2="391.78" stroke="#000" stroke-width="1.15"/>
<line x1="311.45" y1="414.13" x2="314.65" y2="414.13" stroke="#000" stroke-width="1.15"/>
<line x1="325.95" y1="396.47" x2="325.95" y2="404.47" stroke="#000" stroke-width="1.15"/>
<line x1="324.35" y1="396.47" x2="327.55" y2="396.47" stroke="#000" stroke-width="1.15"/>
<line x1="324.35" y1="404.47" x2="327.55" y2="404.47" stroke="#000" stroke-width="1.15"/>
<line x1="344.25" y1="401.30" x2="344.25" y2="408.48" stroke="#000" stroke-width="1.15"/>
<line x1="342.65" y1="401.30" x2="345.85" y2="401.30" stroke="#000" stroke-width="1.15"/>
<line x1="342.65" y1="408.48" x2="345.85" y2="408.48" stroke="#000" stroke-width="1.15"/>
<line x1="357.15" y1="405.44" x2="357.15" y2="409.99" stroke="#000" stroke-width="1.15"/>
<line x1="355.55" y1="405.44" x2="358.75" y2="405.44" stroke="#000" stroke-width="1.15"/>
<line x1="355.55" y1="409.99" x2="358.75" y2="409.99" stroke="#000" stroke-width="1.15"/>
<line x1="375.45" y1="344.72" x2="375.45" y2="385.57" stroke="#000" stroke-width="1.15"/>
<line x1="373.85" y1="344.72" x2="377.05" y2="344.72" stroke="#000" stroke-width="1.15"/>
<line x1="373.85" y1="385.57" x2="377.05" y2="385.57" stroke="#000" stroke-width="1.15"/>
<line x1="388.35" y1="370.39" x2="388.35" y2="385.71" stroke="#000" stroke-width="1.15"/>
<line x1="386.75" y1="370.39" x2="389.95" y2="370.39" stroke="#000" stroke-width="1.15"/>
<line x1="386.75" y1="385.71" x2="389.95" y2="385.71" stroke="#000" stroke-width="1.15"/>
<polyline points="250.60,381.80 250.60,379.40 282.40,379.40 282.40,381.80" stroke="#231f20" fill="none" stroke-width="0.9" stroke-linejoin="round" stroke-linejoin="miter"/>
<text x="266.40" y="377.60" font-size="6.9" text-anchor="middle" fill="#231f20" stroke="#231f20" stroke-width="0.22">ns</text>
<polyline points="250.60,388.00 250.60,385.60 263.40,385.60 263.40,388.00" stroke="#231f20" fill="none" stroke-width="0.9" stroke-linejoin="round" stroke-linejoin="miter"/>
<text x="257.00" y="386.60" font-size="7.2" text-anchor="middle" fill="#231f20" stroke="#231f20" stroke-width="0.22">*</text>
<polyline points="281.60,376.00 281.60,373.60 295.00,373.60 295.00,376.00" stroke="#231f20" fill="none" stroke-width="0.9" stroke-linejoin="round" stroke-linejoin="miter"/>
<text x="288.40" y="374.80" font-size="7.2" text-anchor="middle" fill="#231f20" stroke="#231f20" stroke-width="0.22">*</text>
<polyline points="281.60,376.00 281.60,319.40 375.60,319.40 375.60,322.40" stroke="#231f20" fill="none" stroke-width="0.9" stroke-linejoin="round" stroke-linejoin="miter"/>
<text x="328.60" y="320.40" font-size="7.2" text-anchor="middle" fill="#231f20" stroke="#231f20" stroke-width="0.22">**</text>
<polyline points="281.60,376.00 281.60,324.40 344.80,324.40 344.80,327.00" stroke="#231f20" fill="none" stroke-width="0.9" stroke-linejoin="round" stroke-linejoin="miter"/>
<text x="313.40" y="325.40" font-size="7.2" text-anchor="middle" fill="#231f20" stroke="#231f20" stroke-width="0.22">**</text>
<polyline points="281.60,376.00 281.60,329.60 313.60,329.60 313.60,332.00" stroke="#231f20" fill="none" stroke-width="0.9" stroke-linejoin="round" stroke-linejoin="miter"/>
<text x="298.20" y="330.60" font-size="7.2" text-anchor="middle" fill="#231f20" stroke="#231f20" stroke-width="0.22">**</text>
<polyline points="313.60,337.00 313.60,334.60 375.60,334.60 375.60,337.00" stroke="#231f20" fill="none" stroke-width="0.9" stroke-linejoin="round" stroke-linejoin="miter"/>
<text x="344.40" y="335.60" font-size="7.2" text-anchor="middle" fill="#231f20" stroke="#231f20" stroke-width="0.22">*</text>
<polyline points="313.60,342.00 313.60,339.40 342.60,339.40 342.60,342.00" stroke="#231f20" fill="none" stroke-width="0.9" stroke-linejoin="round" stroke-linejoin="miter"/>
<text x="328.40" y="338.00" font-size="6.9" text-anchor="middle" fill="#231f20" stroke="#231f20" stroke-width="0.22">ns</text>
<polyline points="346.40,342.00 346.40,339.40 375.60,339.40 375.60,342.00" stroke="#231f20" fill="none" stroke-width="0.9" stroke-linejoin="round" stroke-linejoin="miter"/>
<text x="361.00" y="340.40" font-size="7.2" text-anchor="middle" fill="#231f20" stroke="#231f20" stroke-width="0.22">**</text>
<text x="193.70" y="372.30" font-size="9.0" text-anchor="middle" fill="#231f20" stroke="#231f20" stroke-width="0.22" textLength="73" lengthAdjust="spacingAndGlyphs" transform="rotate(-90 193.70 372.30)">Luciferase ratio (rIU)</text>
<text x="228.50" y="438.60" font-size="7.2" text-anchor="end" fill="#231f20" stroke="#231f20" stroke-width="0.22" transform="rotate(-45 228.50 438.60)">PIG eV</text>
<text x="259.70" y="438.60" font-size="7.2" text-anchor="end" fill="#231f20" stroke="#231f20" stroke-width="0.22" transform="rotate(-45 259.70 438.60)">TpoR WT</text>
<text x="290.90" y="438.60" font-size="7.2" text-anchor="end" fill="#231f20" stroke="#231f20" stroke-width="0.22" transform="rotate(-45 290.90 438.60)">TM-IC</text>
<text x="296.90" y="444.40" font-size="7.2" text-anchor="end" fill="#231f20" stroke="#231f20" stroke-width="0.22" transform="rotate(-45 296.90 444.40)">WT</text>
<text x="322.10" y="438.60" font-size="7.2" text-anchor="end" fill="#231f20" stroke="#231f20" stroke-width="0.22" transform="rotate(-45 322.10 438.60)">TM-IC</text>
<text x="328.10" y="444.40" font-size="7.2" text-anchor="end" fill="#231f20" stroke="#231f20" stroke-width="0.22" transform="rotate(-45 328.10 444.40)">L498W</text>
<text x="353.30" y="438.60" font-size="7.2" text-anchor="end" fill="#231f20" stroke="#231f20" stroke-width="0.22" transform="rotate(-45 353.30 438.60)">TM-IC</text>
<text x="359.30" y="444.40" font-size="7.2" text-anchor="end" fill="#231f20" stroke="#231f20" stroke-width="0.22" transform="rotate(-45 359.30 444.40)">H499C</text>
<text x="384.50" y="438.60" font-size="7.2" text-anchor="end" fill="#231f20" stroke="#231f20" stroke-width="0.22" transform="rotate(-45 384.50 438.60)">TM-IC</text>
<text x="390.50" y="444.40" font-size="7.2" text-anchor="end" fill="#231f20" stroke="#231f20" stroke-width="0.22" transform="rotate(-45 390.50 444.40)">L498W</text>
<text x="396.50" y="450.20" font-size="7.2" text-anchor="end" fill="#231f20" stroke="#231f20" stroke-width="0.22" transform="rotate(-45 396.50 450.20)">-H499C</text>
<rect x="244.00" y="479.00" width="8.00" height="5.60" fill="#a6002b"/>
<text x="255.60" y="484.40" font-size="7.4" text-anchor="start" fill="#231f20" stroke="#231f20" stroke-width="0.22" textLength="37.4" lengthAdjust="spacingAndGlyphs">No cytokine</text>
<rect x="305.00" y="479.00" width="8.00" height="5.60" fill="#6aa84a"/>
<text x="316.60" y="484.40" font-size="7.4" text-anchor="start" fill="#231f20" stroke="#231f20" stroke-width="0.22" textLength="47" lengthAdjust="spacingAndGlyphs">Elt (0.7 μg/mL)</text>
<line x1="59.80" y1="517.40" x2="59.80" y2="588.00" stroke="#1a1a1a" stroke-width="1.5"/>
<line x1="56.60" y1="586.20" x2="59.80" y2="586.20" stroke="#231f20" stroke-width="1.0"/>
<text x="54.40" y="588.80" font-size="7.4" text-anchor="end" fill="#231f20" stroke="#231f20" stroke-width="0.22">-50</text>
<line x1="56.60" y1="569.60" x2="59.80" y2="569.60" stroke="#231f20" stroke-width="1.0"/>
<text x="54.40" y="572.20" font-size="7.4" text-anchor="end" fill="#231f20" stroke="#231f20" stroke-width="0.22">0</text>
<line x1="56.60" y1="553.00" x2="59.80" y2="553.00" stroke="#231f20" stroke-width="1.0"/>
<text x="54.40" y="555.60" font-size="7.4" text-anchor="end" fill="#231f20" stroke="#231f20" stroke-width="0.22">50</text>
<line x1="56.60" y1="536.40" x2="59.80" y2="536.40" stroke="#231f20" stroke-width="1.0"/>
<text x="54.40" y="539.00" font-size="7.4" text-anchor="end" fill="#231f20" stroke="#231f20" stroke-width="0.22">100</text>
<line x1="56.60" y1="519.80" x2="59.80" y2="519.80" stroke="#231f20" stroke-width="1.0"/>
<text x="54.40" y="522.40" font-size="7.4" text-anchor="end" fill="#231f20" stroke="#231f20" stroke-width="0.22">150</text>
<line x1="59.30" y1="569.60" x2="151.00" y2="569.60" stroke="#1a1a1a" stroke-width="1.5"/>
<line x1="89.30" y1="569.60" x2="89.30" y2="572.80" stroke="#231f20" stroke-width="1.0"/>
<text x="89.30" y="580.60" font-size="7.4" text-anchor="middle" fill="#231f20" stroke="#231f20" stroke-width="0.22">10</text>
<line x1="118.80" y1="569.60" x2="118.80" y2="572.80" stroke="#231f20" stroke-width="1.0"/>
<text x="118.80" y="580.60" font-size="7.4" text-anchor="middle" fill="#231f20" stroke="#231f20" stroke-width="0.22">20</text>
<line x1="148.30" y1="569.60" x2="148.30" y2="572.80" stroke="#231f20" stroke-width="1.0"/>
<text x="148.30" y="580.60" font-size="7.4" text-anchor="middle" fill="#231f20" stroke="#231f20" stroke-width="0.22">30</text>
<line x1="62.75" y1="505.70" x2="62.75" y2="536.00" stroke="#23427e" stroke-width="0.9"/>
<line x1="61.85" y1="505.70" x2="63.65" y2="505.70" stroke="#23427e" stroke-width="0.9"/>
<line x1="61.85" y1="536.00" x2="63.65" y2="536.00" stroke="#23427e" stroke-width="0.9"/>
<line x1="68.65" y1="524.20" x2="68.65" y2="538.00" stroke="#23427e" stroke-width="0.9"/>
<line x1="67.75" y1="524.20" x2="69.55" y2="524.20" stroke="#23427e" stroke-width="0.9"/>
<line x1="67.75" y1="538.00" x2="69.55" y2="538.00" stroke="#23427e" stroke-width="0.9"/>
<line x1="77.50" y1="522.20" x2="77.50" y2="541.00" stroke="#23427e" stroke-width="0.9"/>
<line x1="76.60" y1="522.20" x2="78.40" y2="522.20" stroke="#23427e" stroke-width="0.9"/>
<line x1="76.60" y1="541.00" x2="78.40" y2="541.00" stroke="#23427e" stroke-width="0.9"/>
<line x1="86.35" y1="539.40" x2="86.35" y2="548.00" stroke="#23427e" stroke-width="0.9"/>
<line x1="85.45" y1="539.40" x2="87.25" y2="539.40" stroke="#23427e" stroke-width="0.9"/>
<line x1="85.45" y1="548.00" x2="87.25" y2="548.00" stroke="#23427e" stroke-width="0.9"/>
<line x1="130.60" y1="549.00" x2="130.60" y2="574.00" stroke="#23427e" stroke-width="0.9"/>
<line x1="129.70" y1="549.00" x2="131.50" y2="549.00" stroke="#23427e" stroke-width="0.9"/>
<line x1="129.70" y1="574.00" x2="131.50" y2="574.00" stroke="#23427e" stroke-width="0.9"/>
<line x1="62.75" y1="537.00" x2="62.75" y2="542.20" stroke="#5ba6e6" stroke-width="0.9"/>
<line x1="61.85" y1="537.00" x2="63.65" y2="537.00" stroke="#5ba6e6" stroke-width="0.9"/>
<line x1="61.85" y1="542.20" x2="63.65" y2="542.20" stroke="#5ba6e6" stroke-width="0.9"/>
<line x1="68.65" y1="540.00" x2="68.65" y2="543.20" stroke="#5ba6e6" stroke-width="0.9"/>
<line x1="67.75" y1="540.00" x2="69.55" y2="540.00" stroke="#5ba6e6" stroke-width="0.9"/>
<line x1="67.75" y1="543.20" x2="69.55" y2="543.20" stroke="#5ba6e6" stroke-width="0.9"/>
<line x1="77.50" y1="538.00" x2="77.50" y2="544.20" stroke="#5ba6e6" stroke-width="0.9"/>
<line x1="76.60" y1="538.00" x2="78.40" y2="538.00" stroke="#5ba6e6" stroke-width="0.9"/>
<line x1="76.60" y1="544.20" x2="78.40" y2="544.20" stroke="#5ba6e6" stroke-width="0.9"/>
<line x1="86.35" y1="542.00" x2="86.35" y2="549.60" stroke="#5ba6e6" stroke-width="0.9"/>
<line x1="85.45" y1="542.00" x2="87.25" y2="542.00" stroke="#5ba6e6" stroke-width="0.9"/>
<line x1="85.45" y1="549.60" x2="87.25" y2="549.60" stroke="#5ba6e6" stroke-width="0.9"/>
<line x1="130.60" y1="555.00" x2="130.60" y2="561.00" stroke="#5ba6e6" stroke-width="0.9"/>
<line x1="129.70" y1="555.00" x2="131.50" y2="555.00" stroke="#5ba6e6" stroke-width="0.9"/>
<line x1="129.70" y1="561.00" x2="131.50" y2="561.00" stroke="#5ba6e6" stroke-width="0.9"/>
<line x1="130.60" y1="549.40" x2="130.60" y2="560.60" stroke="#e08b1b" stroke-width="0.9"/>
<line x1="129.70" y1="549.40" x2="131.50" y2="549.40" stroke="#e08b1b" stroke-width="0.9"/>
<line x1="129.70" y1="560.60" x2="131.50" y2="560.60" stroke="#e08b1b" stroke-width="0.9"/>
<polyline points="59.80,536.80 62.75,539.60 68.65,541.90 77.50,541.20 86.35,545.70 130.60,558.00" stroke="#5ba6e6" fill="none" stroke-width="1.3" stroke-linejoin="round"/>
<polygon points="59.80,535.30 61.30,536.80 59.80,538.30 58.30,536.80" fill="#5ba6e6" stroke="none" stroke-width="1" stroke-linejoin="round"/>
<polygon points="62.75,538.10 64.25,539.60 62.75,541.10 61.25,539.60" fill="#5ba6e6" stroke="none" stroke-width="1" stroke-linejoin="round"/>
<polygon points="68.65,540.40 70.15,541.90 68.65,543.40 67.15,541.90" fill="#5ba6e6" stroke="none" stroke-width="1" stroke-linejoin="round"/>
<polygon points="77.50,539.70 79.00,541.20 77.50,542.70 76.00,541.20" fill="#5ba6e6" stroke="none" stroke-width="1" stroke-linejoin="round"/>
<polygon points="86.35,544.20 87.85,545.70 86.35,547.20 84.85,545.70" fill="#5ba6e6" stroke="none" stroke-width="1" stroke-linejoin="round"/>
<polygon points="130.60,556.50 132.10,558.00 130.60,559.50 129.10,558.00" fill="#5ba6e6" stroke="none" stroke-width="1" stroke-linejoin="round"/>
<polyline points="59.80,536.80 62.75,521.70 68.65,531.10 77.50,533.50 86.35,543.60 130.60,561.60" stroke="#23427e" fill="none" stroke-width="1.3" stroke-linejoin="round"/>
<circle cx="59.80" cy="536.80" r="1.3" fill="#23427e"/>
<circle cx="62.75" cy="521.70" r="1.3" fill="#23427e"/>
<circle cx="68.65" cy="531.10" r="1.3" fill="#23427e"/>
<circle cx="77.50" cy="533.50" r="1.3" fill="#23427e"/>
<circle cx="86.35" cy="543.60" r="1.3" fill="#23427e"/>
<circle cx="130.60" cy="561.60" r="1.3" fill="#23427e"/>
<polyline points="59.80,536.80 62.75,535.20 68.65,533.30 77.50,532.70 86.35,535.40 130.60,555.00" stroke="#e08b1b" fill="none" stroke-width="1.3" stroke-linejoin="round"/>
<polygon points="59.80,535.10 58.20,537.90 61.40,537.90" fill="#e08b1b" stroke="none" stroke-width="1" stroke-linejoin="round"/>
<polygon points="62.75,533.50 61.15,536.30 64.35,536.30" fill="#e08b1b" stroke="none" stroke-width="1" stroke-linejoin="round"/>
<polygon points="68.65,531.60 67.05,534.40 70.25,534.40" fill="#e08b1b" stroke="none" stroke-width="1" stroke-linejoin="round"/>
<polygon points="77.50,531.00 75.90,533.80 79.10,533.80" fill="#e08b1b" stroke="none" stroke-width="1" stroke-linejoin="round"/>
<polygon points="86.35,533.70 84.75,536.50 87.95,536.50" fill="#e08b1b" stroke="none" stroke-width="1" stroke-linejoin="round"/>
<polygon points="130.60,553.30 129.00,556.10 132.20,556.10" fill="#e08b1b" stroke="none" stroke-width="1" stroke-linejoin="round"/>
<text x="111.00" y="534.80" font-size="7.6" text-anchor="start" fill="#231f20" stroke="#231f20" stroke-width="0.22" textLength="34" lengthAdjust="spacingAndGlyphs">Ba/F3 cells</text>
<line x1="154.00" y1="529.60" x2="161.00" y2="529.60" stroke="#5ba6e6" stroke-width="1.0"/>
<polygon points="157.50,528.10 159.00,529.60 157.50,531.10 156.00,529.60" fill="#5ba6e6" stroke="none" stroke-width="1" stroke-linejoin="round"/>
<text x="164.20" y="532.20" font-size="7.6" text-anchor="start" fill="#231f20" stroke="#231f20" stroke-width="0.22" textLength="29" lengthAdjust="spacingAndGlyphs">TpoR WT</text>
<line x1="154.00" y1="539.00" x2="161.00" y2="539.00" stroke="#23427e" stroke-width="1.0"/>
<circle cx="157.5" cy="539.0" r="1.4" fill="#23427e"/>
<text x="164.20" y="541.60" font-size="7.6" text-anchor="start" fill="#231f20" stroke="#231f20" stroke-width="0.22" textLength="40.4" lengthAdjust="spacingAndGlyphs">TpoR L498W</text>
<line x1="154.00" y1="548.60" x2="161.00" y2="548.60" stroke="#e08b1b" stroke-width="1.0"/>
<polygon points="157.50,546.90 155.90,549.70 159.10,549.70" fill="#e08b1b" stroke="none" stroke-width="1" stroke-linejoin="round"/>
<text x="164.20" y="551.20" font-size="7.6" text-anchor="start" fill="#231f20" stroke="#231f20" stroke-width="0.22" textLength="39" lengthAdjust="spacingAndGlyphs">TpoR H499C</text>
<text x="25.30" y="552.50" font-size="8.6" text-anchor="middle" fill="#231f20" stroke="#231f20" stroke-width="0.22" textLength="61.3" lengthAdjust="spacingAndGlyphs" transform="rotate(-90 25.30 552.50)">Percentage of cells</text>
<text x="35.60" y="552.80" font-size="8.6" text-anchor="middle" fill="#231f20" stroke="#231f20" stroke-width="0.22" textLength="75.4" lengthAdjust="spacingAndGlyphs" transform="rotate(-90 35.60 552.80)">with TpoR PE-A staining</text>
<text x="105.50" y="600.60" font-size="9.4" text-anchor="middle" fill="#231f20" stroke="#231f20" stroke-width="0.22" textLength="133" lengthAdjust="spacingAndGlyphs">Time in hours (CHX treatment 50 μg/mL)</text>
<polyline points="49.90,677.69 50.39,677.53 50.88,677.34 51.37,677.11 51.86,676.81 52.35,676.49 52.84,676.12 53.33,675.45 53.82,675.06 54.31,674.13 54.80,673.38 55.29,672.63 55.78,671.17 56.27,670.36 56.76,668.51 57.25,667.43 57.74,665.71 58.23,663.24 58.72,660.29 59.21,659.67 59.70,657.14 60.19,653.55 60.68,650.09 61.17,648.58 61.66,646.53 62.15,642.31 62.64,642.54 63.13,637.86 63.62,637.34 64.11,635.82 64.60,634.21 65.09,632.25 65.58,629.71 66.07,630.82 66.56,629.29 67.05,629.23 67.54,631.14 68.03,632.81 68.52,637.30 69.01,641.09 69.50,644.92 69.99,648.03 70.48,653.26 70.97,657.84 71.46,661.15 71.95,664.93 72.44,668.15 72.93,670.14 73.42,672.32 73.91,674.20 74.40,675.27 74.89,676.20 75.38,676.86 75.87,677.32 76.36,677.64 76.85,677.85 77.34,677.99 77.83,678.07 78.32,678.13 78.81,678.16 79.30,678.18 79.79,678.19 80.28,678.19 80.77,678.20 81.26,678.20 81.75,678.20 82.24,678.20 82.73,678.20 83.22,678.20 83.71,678.20 84.20,678.20 84.69,678.20 85.18,678.20 85.67,678.20 86.16,678.20 86.65,678.20 87.14,678.20 87.63,678.20 88.12,678.20 88.61,678.20 89.10,678.20 89.59,678.20 90.08,678.20 90.57,678.20 91.06,678.20 91.55,678.20 92.04,678.20 92.53,678.20 93.02,678.20 93.51,678.20 94.00,678.20 94.49,678.20 94.98,678.20 95.47,678.20 95.96,678.20 96.45,678.20 96.94,678.20 97.43,678.20 97.92,678.20 98.41,678.20 98.90,678.20 99.39,678.20 99.88,678.20 100.37,678.20 100.86,678.20 101.35,678.20 101.84,678.20 102.33,678.20 102.82,678.20 103.31,678.20 103.80,678.20 104.29,678.20 104.78,678.20 105.27,678.20 105.76,678.20 106.25,678.20 106.74,678.20 107.23,678.20 107.72,678.20 108.21,678.20 108.70,678.20" stroke="#3d7a5a" fill="none" stroke-width="1.25" stroke-linejoin="round"/>
<polyline points="49.90,677.73 50.39,677.59 50.88,677.41 51.37,677.19 51.86,676.91 52.35,676.57 52.84,676.05 53.33,675.58 53.82,675.17 54.31,674.10 54.80,673.82 55.29,672.67 55.78,671.24 56.27,670.66 56.76,668.84 57.25,668.00 57.74,665.17 58.23,662.99 58.72,661.30 59.21,658.18 59.70,657.47 60.19,653.71 60.68,651.49 61.17,648.91 61.66,646.70 62.15,642.74 62.64,639.81 63.13,639.01 63.62,636.05 64.11,636.07 64.60,632.00 65.09,630.63 65.58,628.18 66.07,627.88 66.56,629.22 67.05,628.72 67.54,628.44 68.03,632.50 68.52,633.77 69.01,638.41 69.50,642.77 69.99,647.50 70.48,649.65 70.97,656.38 71.46,660.03 71.95,663.37 72.44,665.79 72.93,669.81 73.42,671.58 73.91,673.32 74.40,674.56 74.89,675.70 75.38,676.58 75.87,677.13 76.36,677.51 76.85,677.76 77.34,677.93 77.83,678.04 78.32,678.10 78.81,678.15 79.30,678.17 79.79,678.18 80.28,678.19 80.77,678.20 81.26,678.20 81.75,678.20 82.24,678.20 82.73,678.20 83.22,678.20 83.71,678.20 84.20,678.20 84.69,678.20 85.18,678.20 85.67,678.20 86.16,678.20 86.65,678.20 87.14,678.20 87.63,678.20 88.12,678.20 88.61,678.20 89.10,678.20 89.59,678.20 90.08,678.20 90.57,678.20 91.06,678.20 91.55,678.20 92.04,678.20 92.53,678.20 93.02,678.20 93.51,678.20 94.00,678.20 94.49,678.20 94.98,678.20 95.47,678.20 95.96,678.20 96.45,678.20 96.94,678.20 97.43,678.20 97.92,678.20 98.41,678.20 98.90,678.20 99.39,678.20 99.88,678.20 100.37,678.20 100.86,678.20 101.35,678.20 101.84,678.20 102.33,678.20 102.82,678.20 103.31,678.20 103.80,678.20 104.29,678.20 104.78,678.20 105.27,678.20 105.76,678.20 106.25,678.20 106.74,678.20 107.23,678.20 107.72,678.20 108.21,678.20 108.70,678.20" stroke="#2f55a4" fill="none" stroke-width="1.25" stroke-linejoin="round"/>
<polyline points="49.90,678.20 50.39,678.20 50.88,678.19 51.37,678.19 51.86,678.18 52.35,678.18 52.84,678.16 53.33,678.14 53.82,678.11 54.31,678.06 54.80,678.00 55.29,677.90 55.78,677.77 56.27,677.59 56.76,677.34 57.25,677.01 57.74,676.57 58.23,675.92 58.72,675.33 59.21,674.38 59.70,673.28 60.19,671.57 60.68,669.78 61.17,668.53 61.66,666.29 62.15,663.70 62.64,660.87 63.13,657.25 63.62,653.59 64.11,650.77 64.60,647.69 65.09,643.05 65.58,639.60 66.07,635.79 66.56,631.87 67.05,629.90 67.54,628.26 68.03,626.60 68.52,625.71 69.01,627.20 69.50,626.93 69.99,630.54 70.48,634.97 70.97,640.66 71.46,647.52 71.95,653.38 72.44,659.39 72.93,663.22 73.42,667.91 73.91,670.96 74.40,673.22 74.89,674.95 75.38,676.11 75.87,676.91 76.36,677.44 76.85,677.77 77.34,677.96 77.83,678.07 78.32,678.14 78.81,678.17 79.30,678.18 79.79,678.19 80.28,678.20 80.77,678.20 81.26,678.20 81.75,678.20 82.24,678.20 82.73,678.20 83.22,678.20 83.71,678.20 84.20,678.20 84.69,678.20 85.18,678.20 85.67,678.20 86.16,678.20 86.65,678.20 87.14,678.20 87.63,678.20 88.12,678.20 88.61,678.20 89.10,678.20 89.59,678.20 90.08,678.20 90.57,678.20 91.06,678.20 91.55,678.20 92.04,678.20 92.53,678.20 93.02,678.20 93.51,678.20 94.00,678.20 94.49,678.20 94.98,678.20 95.47,678.20 95.96,678.20 96.45,678.20 96.94,678.20 97.43,678.20 97.92,678.20 98.41,678.20 98.90,678.20 99.39,678.20 99.88,678.20 100.37,678.20 100.86,678.20 101.35,678.20 101.84,678.20 102.33,678.20 102.82,678.20 103.31,678.20 103.80,678.20 104.29,678.20 104.78,678.20 105.27,678.20 105.76,678.20 106.25,678.20 106.74,678.20 107.23,678.20 107.72,678.20 108.21,678.20 108.70,678.20" stroke="#a7a0e0" fill="none" stroke-width="1.25" stroke-linejoin="round"/>
<polyline points="49.90,678.20 50.39,678.20 50.88,678.20 51.37,678.20 51.86,678.20 52.35,678.20 52.84,678.20 53.33,678.20 53.82,678.20 54.31,678.20 54.80,678.19 55.29,678.19 55.78,678.18 56.27,678.16 56.76,678.14 57.25,678.10 57.74,678.03 58.23,677.92 58.72,677.76 59.21,677.52 59.70,677.17 60.19,676.66 60.68,676.04 61.17,675.13 61.66,673.86 62.15,672.28 62.64,670.11 63.13,667.85 63.62,664.02 64.11,660.68 64.60,657.35 65.09,652.76 65.58,647.86 66.07,642.98 66.56,638.61 67.05,632.86 67.54,628.64 68.03,626.33 68.52,623.99 69.01,623.44 69.50,623.39 69.99,624.87 70.48,628.80 70.97,633.08 71.46,640.45 71.95,647.28 72.44,652.11 72.93,658.76 73.42,664.26 73.91,668.00 74.40,671.50 74.89,673.62 75.38,675.20 75.87,676.39 76.36,677.17 76.85,677.62 77.34,677.88 77.83,678.03 78.32,678.12 78.81,678.16 79.30,678.18 79.79,678.19 80.28,678.20 80.77,678.20 81.26,678.20 81.75,678.20 82.24,678.20 82.73,678.20 83.22,678.20 83.71,678.20 84.20,678.20 84.69,678.20 85.18,678.20 85.67,678.20 86.16,678.20 86.65,678.20 87.14,678.20 87.63,678.20 88.12,678.20 88.61,678.20 89.10,678.20 89.59,678.20 90.08,678.20 90.57,678.20 91.06,678.20 91.55,678.20 92.04,678.20 92.53,678.20 93.02,678.20 93.51,678.20 94.00,678.20 94.49,678.20 94.98,678.20 95.47,678.20 95.96,678.20 96.45,678.20 96.94,678.20 97.43,678.20 97.92,678.20 98.41,678.20 98.90,678.20 99.39,678.20 99.88,678.20 100.37,678.20 100.86,678.20 101.35,678.20 101.84,678.20 102.33,678.20 102.82,678.20 103.31,678.20 103.80,678.20 104.29,678.20 104.78,678.20 105.27,678.20 105.76,678.20 106.25,678.20 106.74,678.20 107.23,678.20 107.72,678.20 108.21,678.20 108.70,678.20" stroke="#f2c523" fill="none" stroke-width="1.25" stroke-linejoin="round"/>
<polyline points="49.90,678.20 50.39,678.19 50.88,678.19 51.37,678.19 51.86,678.18 52.35,678.17 52.84,678.15 53.33,678.12 53.82,678.09 54.31,678.04 54.80,677.96 55.29,677.86 55.78,677.71 56.27,677.52 56.76,677.26 57.25,676.92 57.74,676.47 58.23,675.85 58.72,675.25 59.21,674.32 59.70,673.32 60.19,671.63 60.68,670.17 61.17,668.03 61.66,666.33 62.15,664.04 62.64,660.32 63.13,656.81 63.62,653.68 64.11,650.30 64.60,646.64 65.09,643.15 65.58,640.70 66.07,636.52 66.56,633.62 67.05,631.45 67.54,628.97 68.03,626.42 68.52,625.09 69.01,623.35 69.50,622.80 69.99,625.84 70.48,628.41 70.97,633.45 71.46,639.61 71.95,647.43 72.44,654.07 72.93,659.72 73.42,664.60 73.91,668.54 74.40,671.31 74.89,673.54 75.38,675.27 75.87,676.47 76.36,677.19 76.85,677.63 77.34,677.89 77.83,678.04 78.32,678.12 78.81,678.16 79.30,678.18 79.79,678.19 80.28,678.20 80.77,678.20 81.26,678.20 81.75,678.20 82.24,678.20 82.73,678.20 83.22,678.20 83.71,678.20 84.20,678.20 84.69,678.20 85.18,678.20 85.67,678.20 86.16,678.20 86.65,678.20 87.14,678.20 87.63,678.20 88.12,678.20 88.61,678.20 89.10,678.20 89.59,678.20 90.08,678.20 90.57,678.20 91.06,678.20 91.55,678.20 92.04,678.20 92.53,678.20 93.02,678.20 93.51,678.20 94.00,678.20 94.49,678.20 94.98,678.20 95.47,678.20 95.96,678.20 96.45,678.20 96.94,678.20 97.43,678.20 97.92,678.20 98.41,678.20 98.90,678.20 99.39,678.20 99.88,678.20 100.37,678.20 100.86,678.20 101.35,678.20 101.84,678.20 102.33,678.20 102.82,678.20 103.31,678.20 103.80,678.20 104.29,678.20 104.78,678.20 105.27,678.20 105.76,678.20 106.25,678.20 106.74,678.20 107.23,678.20 107.72,678.20 108.21,678.20 108.70,678.20" stroke="#6bb04a" fill="none" stroke-width="1.25" stroke-linejoin="round"/>
<polyline points="49.90,678.16 50.39,678.15 50.88,678.13 51.37,678.10 51.86,678.06 52.35,678.00 52.84,677.92 53.33,677.82 53.82,677.69 54.31,677.51 54.80,677.29 55.29,677.00 55.78,676.63 56.27,676.18 56.76,675.58 57.25,674.84 57.74,674.28 58.23,673.04 58.72,671.71 59.21,670.39 59.70,668.82 60.19,667.29 60.68,665.69 61.17,662.62 61.66,660.92 62.15,657.40 62.64,654.13 63.13,652.53 63.62,649.49 64.11,645.17 64.60,642.63 65.09,640.94 65.58,638.21 66.07,635.53 66.56,631.44 67.05,629.65 67.54,629.56 68.03,626.78 68.52,625.70 69.01,626.22 69.50,628.04 69.99,630.68 70.48,636.37 70.97,642.47 71.46,646.58 71.95,653.60 72.44,659.67 72.93,664.11 73.42,668.79 73.91,671.60 74.40,673.96 74.89,675.73 75.38,676.69 75.87,677.34 76.36,677.73 76.85,677.95 77.34,678.08 77.83,678.14 78.32,678.17 78.81,678.19 79.30,678.19 79.79,678.20 80.28,678.20 80.77,678.20 81.26,678.20 81.75,678.20 82.24,678.20 82.73,678.20 83.22,678.20 83.71,678.20 84.20,678.20 84.69,678.20 85.18,678.20 85.67,678.20 86.16,678.20 86.65,678.20 87.14,678.20 87.63,678.20 88.12,678.20 88.61,678.20 89.10,678.20 89.59,678.20 90.08,678.20 90.57,678.20 91.06,678.20 91.55,678.20 92.04,678.20 92.53,678.20 93.02,678.20 93.51,678.20 94.00,678.20 94.49,678.20 94.98,678.20 95.47,678.20 95.96,678.20 96.45,678.20 96.94,678.20 97.43,678.20 97.92,678.20 98.41,678.20 98.90,678.20 99.39,678.20 99.88,678.20 100.37,678.20 100.86,678.20 101.35,678.20 101.84,678.20 102.33,678.20 102.82,678.20 103.31,678.20 103.80,678.20 104.29,678.20 104.78,678.20 105.27,678.20 105.76,678.20 106.25,678.20 106.74,678.20 107.23,678.20 107.72,678.20 108.21,678.20 108.70,678.20" stroke="#c0123e" fill="none" stroke-width="1.25" stroke-linejoin="round"/>
<rect x="49.30" y="618.60" width="61" height="60.40" fill="none" stroke="#111" stroke-width="1.5"/>
<path d="M49.30 620.40h1.4M49.30 623.30h1.4M49.30 626.20h1.4M49.30 629.10h1.4M49.30 632.00h1.4M49.30 634.90h1.4M49.30 637.80h1.4M49.30 640.70h1.4M49.30 643.60h1.4M49.30 646.50h1.4M49.30 649.40h1.4M49.30 652.30h1.4M49.30 655.20h1.4M49.30 658.10h1.4M49.30 661.00h1.4M49.30 663.90h1.4M49.30 666.80h1.4M49.30 669.70h1.4M49.30 672.60h1.4M49.30 675.50h1.4" stroke="#000" fill="none" stroke-width="0.5"/>
<line x1="46.90" y1="679.00" x2="49.30" y2="679.00" stroke="#231f20" stroke-width="1.0"/>
<text x="43.90" y="681.20" font-size="6.4" text-anchor="end" fill="#231f20" stroke="#231f20" stroke-width="0.22">0</text>
<line x1="46.90" y1="667.40" x2="49.30" y2="667.40" stroke="#231f20" stroke-width="1.0"/>
<text x="43.90" y="669.60" font-size="6.4" text-anchor="end" fill="#231f20" stroke="#231f20" stroke-width="0.22">20</text>
<line x1="46.90" y1="655.80" x2="49.30" y2="655.80" stroke="#231f20" stroke-width="1.0"/>
<text x="43.90" y="658.00" font-size="6.4" text-anchor="end" fill="#231f20" stroke="#231f20" stroke-width="0.22">40</text>
<line x1="46.90" y1="644.20" x2="49.30" y2="644.20" stroke="#231f20" stroke-width="1.0"/>
<text x="43.90" y="646.40" font-size="6.4" text-anchor="end" fill="#231f20" stroke="#231f20" stroke-width="0.22">60</text>
<line x1="46.90" y1="632.60" x2="49.30" y2="632.60" stroke="#231f20" stroke-width="1.0"/>
<text x="43.90" y="634.80" font-size="6.4" text-anchor="end" fill="#231f20" stroke="#231f20" stroke-width="0.22">80</text>
<line x1="46.90" y1="621.00" x2="49.30" y2="621.00" stroke="#231f20" stroke-width="1.0"/>
<text x="43.90" y="623.20" font-size="6.4" text-anchor="end" fill="#231f20" stroke="#231f20" stroke-width="0.22">100</text>
<path d="M51.34 679.00v1.5M53.03 679.00v1.5M54.42 679.00v1.5M55.59 679.00v1.5M56.60 679.00v1.5M57.50 679.00v1.5M58.30 679.00v2.6M63.57 679.00v1.5M66.65 679.00v1.5M68.84 679.00v1.5M70.53 679.00v1.5M71.92 679.00v1.5M73.09 679.00v1.5M74.10 679.00v1.5M75.00 679.00v1.5M75.80 679.00v2.6M81.07 679.00v1.5M84.15 679.00v1.5M86.34 679.00v1.5M88.03 679.00v1.5M89.42 679.00v1.5M90.59 679.00v1.5M91.60 679.00v1.5M92.50 679.00v1.5M93.30 679.00v2.6M98.57 679.00v1.5M101.65 679.00v1.5M103.84 679.00v1.5M105.53 679.00v1.5M106.92 679.00v1.5M108.09 679.00v1.5M109.10 679.00v1.5M110.00 679.00v1.5" stroke="#000" fill="none" stroke-width="0.7"/>
<text x="57.50" y="692.20" font-size="7.2" text-anchor="middle" fill="#231f20" stroke="#231f20" stroke-width="0.22">10</text>
<text x="61.70" y="688.40" font-size="4.6" text-anchor="start" fill="#231f20" stroke="#231f20" stroke-width="0.22">2</text>
<text x="75.00" y="692.20" font-size="7.2" text-anchor="middle" fill="#231f20" stroke="#231f20" stroke-width="0.22">10</text>
<text x="79.20" y="688.40" font-size="4.6" text-anchor="start" fill="#231f20" stroke="#231f20" stroke-width="0.22">3</text>
<text x="92.50" y="692.20" font-size="7.2" text-anchor="middle" fill="#231f20" stroke="#231f20" stroke-width="0.22">10</text>
<text x="96.70" y="688.40" font-size="4.6" text-anchor="start" fill="#231f20" stroke="#231f20" stroke-width="0.22">4</text>
<polyline points="134.80,678.20 135.29,678.20 135.78,678.20 136.27,678.20 136.76,678.20 137.25,678.20 137.74,678.20 138.23,678.20 138.72,678.20 139.21,678.20 139.70,678.20 140.19,678.19 140.68,678.19 141.17,678.19 141.66,678.19 142.15,678.18 142.64,678.17 143.13,678.16 143.62,678.15 144.11,678.14 144.60,678.12 145.09,678.09 145.58,678.06 146.07,678.02 146.56,677.97 147.05,677.91 147.54,677.83 148.03,677.74 148.52,677.63 149.01,677.50 149.50,677.34 149.99,677.16 150.48,676.95 150.97,676.72 151.46,676.51 151.95,676.21 152.44,675.90 152.93,675.41 153.42,675.16 153.91,674.66 154.40,674.39 154.89,673.42 155.38,673.31 155.87,672.74 156.36,672.13 156.85,671.32 157.34,671.31 157.83,670.31 158.32,670.35 158.81,669.93 159.30,669.60 159.79,670.00 160.28,669.23 160.77,669.44 161.26,669.62 161.75,668.51 162.24,669.41 162.73,669.07 163.22,668.83 163.71,669.19 164.20,669.66 164.69,669.58 165.18,669.72 165.67,669.57 166.16,670.42 166.65,669.62 167.14,669.42 167.63,668.29 168.12,665.84 168.61,664.38 169.10,662.46 169.59,660.81 170.08,660.35 170.57,662.32 171.06,663.33 171.55,665.38 172.04,667.39 172.53,669.15 173.02,671.25 173.51,672.68 174.00,673.91 174.49,674.56 174.98,675.35 175.47,675.77 175.96,676.12 176.45,676.52 176.94,676.73 177.43,676.91 177.92,677.07 178.41,677.20 178.90,677.33 179.39,677.44 179.88,677.54 180.37,677.63 180.86,677.70 181.35,677.77 181.84,677.83 182.33,677.89 182.82,677.93 183.31,677.97 183.80,678.01 184.29,678.04 184.78,678.07 185.27,678.09 185.76,678.11 186.25,678.12 186.74,678.14 187.23,678.15 187.72,678.16 188.21,678.16 188.70,678.17 189.19,678.18 189.68,678.18 190.17,678.18 190.66,678.19 191.15,678.19 191.64,678.19 192.13,678.19 192.62,678.20 193.11,678.20 193.60,678.20" stroke="#3d7a5a" fill="none" stroke-width="1.25" stroke-linejoin="round"/>
<polyline points="134.80,678.20 135.29,678.20 135.78,678.20 136.27,678.20 136.76,678.20 137.25,678.20 137.74,678.20 138.23,678.19 138.72,678.19 139.21,678.19 139.70,678.19 140.19,678.19 140.68,678.18 141.17,678.18 141.66,678.17 142.15,678.17 142.64,678.16 143.13,678.15 143.62,678.14 144.11,678.13 144.60,678.11 145.09,678.09 145.58,678.07 146.07,678.04 146.56,678.01 147.05,677.97 147.54,677.93 148.03,677.87 148.52,677.81 149.01,677.74 149.50,677.66 149.99,677.56 150.48,677.45 150.97,677.33 151.46,677.19 151.95,677.02 152.44,676.84 152.93,676.63 153.42,676.49 153.91,676.11 154.40,675.64 154.89,675.34 155.38,675.39 155.87,675.03 156.36,674.39 156.85,674.24 157.34,673.61 157.83,673.27 158.32,672.00 158.81,671.19 159.30,670.29 159.79,670.70 160.28,668.98 160.77,668.24 161.26,668.44 161.75,665.91 162.24,664.70 162.73,665.63 163.22,662.60 163.71,663.18 164.20,661.88 164.69,659.08 165.18,658.51 165.67,660.00 166.16,657.92 166.65,656.54 167.14,656.33 167.63,656.04 168.12,654.54 168.61,651.78 169.10,654.21 169.59,650.97 170.08,650.79 170.57,652.13 171.06,650.14 171.55,648.33 172.04,648.49 172.53,650.30 173.02,645.86 173.51,646.70 174.00,646.03 174.49,650.73 174.98,651.15 175.47,653.79 175.96,652.30 176.45,656.81 176.94,659.62 177.43,660.82 177.92,661.69 178.41,664.42 178.90,667.91 179.39,669.96 179.88,670.46 180.37,672.47 180.86,673.62 181.35,675.11 181.84,675.90 182.33,676.27 182.82,676.85 183.31,677.24 183.80,677.53 184.29,677.74 184.78,677.89 185.27,677.99 185.76,678.06 186.25,678.11 186.74,678.14 187.23,678.17 187.72,678.18 188.21,678.19 188.70,678.19 189.19,678.20 189.68,678.20 190.17,678.20 190.66,678.20 191.15,678.20 191.64,678.20 192.13,678.20 192.62,678.20 193.11,678.20 193.60,678.20" stroke="#f2c523" fill="none" stroke-width="1.25" stroke-linejoin="round"/>
<polyline points="134.80,678.20 135.29,678.20 135.78,678.20 136.27,678.20 136.76,678.20 137.25,678.20 137.74,678.20 138.23,678.20 138.72,678.20 139.21,678.20 139.70,678.20 140.19,678.20 140.68,678.20 141.17,678.20 141.66,678.20 142.15,678.20 142.64,678.20 143.13,678.20 143.62,678.20 144.11,678.20 144.60,678.20 145.09,678.20 145.58,678.20 146.07,678.20 146.56,678.20 147.05,678.19 147.54,678.19 148.03,678.19 148.52,678.18 149.01,678.18 149.50,678.17 149.99,678.16 150.48,678.15 150.97,678.13 151.46,678.11 151.95,678.09 152.44,678.05 152.93,678.01 153.42,677.96 153.91,677.89 154.40,677.81 154.89,677.71 155.38,677.58 155.87,677.43 156.36,677.25 156.85,677.03 157.34,676.77 157.83,676.47 158.32,676.22 158.81,675.48 159.30,675.09 159.79,674.40 160.28,674.17 160.77,672.86 161.26,672.66 161.75,670.92 162.24,670.27 162.73,669.23 163.22,667.59 163.71,665.46 164.20,665.13 164.69,663.81 165.18,661.08 165.67,659.98 166.16,658.46 166.65,656.31 167.14,654.55 167.63,651.82 168.12,649.21 168.61,647.01 169.10,643.24 169.59,642.73 170.08,639.94 170.57,639.12 171.06,636.73 171.55,636.24 172.04,633.98 172.53,633.58 173.02,630.09 173.51,629.98 174.00,630.77 174.49,629.57 174.98,628.08 175.47,631.43 175.96,629.79 176.45,632.30 176.94,633.57 177.43,634.16 177.92,637.70 178.41,639.52 178.90,641.27 179.39,642.73 179.88,647.51 180.37,648.39 180.86,651.40 181.35,654.16 181.84,657.38 182.33,659.84 182.82,662.72 183.31,664.47 183.80,666.38 184.29,666.90 184.78,669.21 185.27,670.67 185.76,671.93 186.25,672.32 186.74,673.29 187.23,674.27 187.72,675.17 188.21,675.76 188.70,676.22 189.19,676.56 189.68,676.90 190.17,677.18 190.66,677.40 191.15,677.58 191.64,677.72 192.13,677.84 192.62,677.93 193.11,677.99 193.60,678.05" stroke="#a7a0e0" fill="none" stroke-width="1.25" stroke-linejoin="round"/>
<polyline points="134.80,678.20 135.29,678.20 135.78,678.20 136.27,678.20 136.76,678.20 137.25,678.20 137.74,678.20 138.23,678.20 138.72,678.20 139.21,678.20 139.70,678.20 140.19,678.20 140.68,678.20 141.17,678.20 141.66,678.20 142.15,678.20 142.64,678.20 143.13,678.20 143.62,678.19 144.11,678.19 144.60,678.19 145.09,678.19 145.58,678.18 146.07,678.18 146.56,678.17 147.05,678.16 147.54,678.15 148.03,678.13 148.52,678.11 149.01,678.09 149.50,678.06 149.99,678.02 150.48,677.97 150.97,677.91 151.46,677.84 151.95,677.76 152.44,677.66 152.93,677.53 153.42,677.39 153.91,677.21 154.40,677.01 154.89,676.77 155.38,676.49 155.87,676.18 156.36,675.96 156.85,675.39 157.34,675.03 157.83,673.96 158.32,673.27 158.81,672.95 159.30,672.52 159.79,670.72 160.28,670.71 160.77,669.63 161.26,669.24 161.75,667.30 162.24,665.81 162.73,664.35 163.22,663.82 163.71,661.35 164.20,661.60 164.69,659.08 165.18,658.23 165.67,655.20 166.16,655.14 166.65,653.51 167.14,650.51 167.63,649.19 168.12,645.96 168.61,644.71 169.10,642.27 169.59,641.41 170.08,639.98 170.57,638.22 171.06,639.64 171.55,639.27 172.04,635.73 172.53,639.32 173.02,636.56 173.51,637.10 174.00,640.36 174.49,637.46 174.98,638.24 175.47,640.77 175.96,641.81 176.45,643.17 176.94,648.18 177.43,648.40 177.92,650.58 178.41,651.19 178.90,653.48 179.39,655.64 179.88,658.79 180.37,659.78 180.86,662.48 181.35,664.33 181.84,667.15 182.33,669.02 182.82,670.11 183.31,670.95 183.80,672.38 184.29,672.52 184.78,673.71 185.27,674.42 185.76,675.10 186.25,675.64 186.74,676.20 187.23,676.59 187.72,676.92 188.21,677.18 188.70,677.40 189.19,677.58 189.68,677.72 190.17,677.83 190.66,677.92 191.15,677.99 191.64,678.04 192.13,678.08 192.62,678.11 193.11,678.14 193.60,678.15" stroke="#6bb04a" fill="none" stroke-width="1.25" stroke-linejoin="round"/>
<polyline points="134.80,678.20 135.29,678.20 135.78,678.20 136.27,678.20 136.76,678.20 137.25,678.20 137.74,678.20 138.23,678.20 138.72,678.20 139.21,678.20 139.70,678.20 140.19,678.20 140.68,678.20 141.17,678.20 141.66,678.20 142.15,678.20 142.64,678.20 143.13,678.20 143.62,678.20 144.11,678.20 144.60,678.20 145.09,678.20 145.58,678.20 146.07,678.20 146.56,678.20 147.05,678.19 147.54,678.19 148.03,678.19 148.52,678.18 149.01,678.18 149.50,678.17 149.99,678.16 150.48,678.15 150.97,678.13 151.46,678.11 151.95,678.08 152.44,678.05 152.93,678.00 153.42,677.94 153.91,677.87 154.40,677.79 154.89,677.68 155.38,677.55 155.87,677.39 156.36,677.19 156.85,676.96 157.34,676.68 157.83,676.58 158.32,675.79 158.81,675.33 159.30,674.96 159.79,674.32 160.28,673.46 160.77,673.41 161.26,671.54 161.75,671.34 162.24,670.64 162.73,669.03 163.22,666.41 163.71,666.45 164.20,662.99 164.69,660.13 165.18,660.17 165.67,658.70 166.16,656.10 166.65,652.70 167.14,649.93 167.63,648.47 168.12,645.97 168.61,646.89 169.10,644.16 169.59,641.27 170.08,636.26 170.57,636.74 171.06,633.30 171.55,634.79 172.04,632.98 172.53,630.47 173.02,627.09 173.51,626.19 174.00,625.78 174.49,627.80 174.98,626.60 175.47,627.40 175.96,628.28 176.45,631.53 176.94,628.61 177.43,634.51 177.92,632.13 178.41,634.72 178.90,642.56 179.39,642.63 179.88,643.25 180.37,645.13 180.86,650.86 181.35,654.58 181.84,657.44 182.33,656.07 182.82,661.89 183.31,662.49 183.80,666.01 184.29,666.58 184.78,667.19 185.27,670.57 185.76,670.55 186.25,672.26 186.74,672.80 187.23,673.94 187.72,675.10 188.21,675.24 188.70,676.04 189.19,676.47 189.68,676.83 190.17,677.12 190.66,677.35 191.15,677.55 191.64,677.70 192.13,677.82 192.62,677.91 193.11,677.98 193.60,678.04" stroke="#2f55a4" fill="none" stroke-width="1.25" stroke-linejoin="round"/>
<polyline points="134.80,678.20 135.29,678.20 135.78,678.20 136.27,678.20 136.76,678.20 137.25,678.20 137.74,678.20 138.23,678.20 138.72,678.20 139.21,678.20 139.70,678.20 140.19,678.20 140.68,678.20 141.17,678.20 141.66,678.19 142.15,678.19 142.64,678.19 143.13,678.19 143.62,678.19 144.11,678.18 144.60,678.18 145.09,678.17 145.58,678.17 146.07,678.16 146.56,678.15 147.05,678.14 147.54,678.12 148.03,678.10 148.52,678.08 149.01,678.06 149.50,678.03 149.99,677.99 150.48,677.94 150.97,677.89 151.46,677.83 151.95,677.76 152.44,677.68 152.93,677.58 153.42,677.47 153.91,677.34 154.40,677.18 154.89,677.01 155.38,676.81 155.87,676.59 156.36,676.51 156.85,676.25 157.34,675.71 157.83,675.37 158.32,675.06 158.81,674.74 159.30,674.10 159.79,673.58 160.28,672.42 160.77,672.72 161.26,671.03 161.75,670.05 162.24,670.35 162.73,667.96 163.22,667.31 163.71,665.76 164.20,666.07 164.69,664.69 165.18,663.38 165.67,660.08 166.16,660.00 166.65,659.41 167.14,657.68 167.63,656.84 168.12,656.36 168.61,654.51 169.10,649.50 169.59,650.42 170.08,645.79 170.57,647.37 171.06,645.72 171.55,643.05 172.04,643.05 172.53,640.78 173.02,636.73 173.51,635.81 174.00,634.99 174.49,634.78 174.98,632.54 175.47,631.61 175.96,632.76 176.45,631.45 176.94,634.19 177.43,630.79 177.92,632.03 178.41,630.90 178.90,632.17 179.39,635.07 179.88,637.83 180.37,635.80 180.86,641.88 181.35,642.89 181.84,646.27 182.33,649.38 182.82,650.26 183.31,652.07 183.80,658.11 184.29,659.21 184.78,662.94 185.27,664.47 185.76,666.98 186.25,669.26 186.74,670.82 187.23,672.11 187.72,672.54 188.21,674.02 188.70,675.07 189.19,675.40 189.68,675.99 190.17,676.66 190.66,677.04 191.15,677.33 191.64,677.55 192.13,677.73 192.62,677.86 193.11,677.95 193.60,678.02" stroke="#c0123e" fill="none" stroke-width="1.25" stroke-linejoin="round"/>
<rect x="134.20" y="618.60" width="61" height="60.40" fill="none" stroke="#111" stroke-width="1.5"/>
<path d="M134.20 620.40h1.4M134.20 623.30h1.4M134.20 626.20h1.4M134.20 629.10h1.4M134.20 632.00h1.4M134.20 634.90h1.4M134.20 637.80h1.4M134.20 640.70h1.4M134.20 643.60h1.4M134.20 646.50h1.4M134.20 649.40h1.4M134.20 652.30h1.4M134.20 655.20h1.4M134.20 658.10h1.4M134.20 661.00h1.4M134.20 663.90h1.4M134.20 666.80h1.4M134.20 669.70h1.4M134.20 672.60h1.4M134.20 675.50h1.4" stroke="#000" fill="none" stroke-width="0.5"/>
<line x1="131.80" y1="679.00" x2="134.20" y2="679.00" stroke="#231f20" stroke-width="1.0"/>
<text x="128.80" y="681.20" font-size="6.4" text-anchor="end" fill="#231f20" stroke="#231f20" stroke-width="0.22">0</text>
<line x1="131.80" y1="667.40" x2="134.20" y2="667.40" stroke="#231f20" stroke-width="1.0"/>
<text x="128.80" y="669.60" font-size="6.4" text-anchor="end" fill="#231f20" stroke="#231f20" stroke-width="0.22">20</text>
<line x1="131.80" y1="655.80" x2="134.20" y2="655.80" stroke="#231f20" stroke-width="1.0"/>
<text x="128.80" y="658.00" font-size="6.4" text-anchor="end" fill="#231f20" stroke="#231f20" stroke-width="0.22">40</text>
<line x1="131.80" y1="644.20" x2="134.20" y2="644.20" stroke="#231f20" stroke-width="1.0"/>
<text x="128.80" y="646.40" font-size="6.4" text-anchor="end" fill="#231f20" stroke="#231f20" stroke-width="0.22">60</text>
<line x1="131.80" y1="632.60" x2="134.20" y2="632.60" stroke="#231f20" stroke-width="1.0"/>
<text x="128.80" y="634.80" font-size="6.4" text-anchor="end" fill="#231f20" stroke="#231f20" stroke-width="0.22">80</text>
<line x1="131.80" y1="621.00" x2="134.20" y2="621.00" stroke="#231f20" stroke-width="1.0"/>
<text x="128.80" y="623.20" font-size="6.4" text-anchor="end" fill="#231f20" stroke="#231f20" stroke-width="0.22">100</text>
<path d="M136.24 679.00v1.5M137.93 679.00v1.5M139.32 679.00v1.5M140.49 679.00v1.5M141.50 679.00v1.5M142.40 679.00v1.5M143.20 679.00v2.6M148.47 679.00v1.5M151.55 679.00v1.5M153.74 679.00v1.5M155.43 679.00v1.5M156.82 679.00v1.5M157.99 679.00v1.5M159.00 679.00v1.5M159.90 679.00v1.5M160.70 679.00v2.6M165.97 679.00v1.5M169.05 679.00v1.5M171.24 679.00v1.5M172.93 679.00v1.5M174.32 679.00v1.5M175.49 679.00v1.5M176.50 679.00v1.5M177.40 679.00v1.5M178.20 679.00v2.6M183.47 679.00v1.5M186.55 679.00v1.5M188.74 679.00v1.5M190.43 679.00v1.5M191.82 679.00v1.5M192.99 679.00v1.5M194.00 679.00v1.5M194.90 679.00v1.5" stroke="#000" fill="none" stroke-width="0.7"/>
<text x="142.40" y="692.20" font-size="7.2" text-anchor="middle" fill="#231f20" stroke="#231f20" stroke-width="0.22">10</text>
<text x="146.60" y="688.40" font-size="4.6" text-anchor="start" fill="#231f20" stroke="#231f20" stroke-width="0.22">2</text>
<text x="159.90" y="692.20" font-size="7.2" text-anchor="middle" fill="#231f20" stroke="#231f20" stroke-width="0.22">10</text>
<text x="164.10" y="688.40" font-size="4.6" text-anchor="start" fill="#231f20" stroke="#231f20" stroke-width="0.22">3</text>
<text x="177.40" y="692.20" font-size="7.2" text-anchor="middle" fill="#231f20" stroke="#231f20" stroke-width="0.22">10</text>
<text x="181.60" y="688.40" font-size="4.6" text-anchor="start" fill="#231f20" stroke="#231f20" stroke-width="0.22">4</text>
<polyline points="219.10,678.20 219.59,678.20 220.08,678.20 220.57,678.20 221.06,678.20 221.55,678.20 222.04,678.20 222.53,678.20 223.02,678.20 223.51,678.20 224.00,678.20 224.49,678.20 224.98,678.20 225.47,678.20 225.96,678.20 226.45,678.20 226.94,678.20 227.43,678.20 227.92,678.20 228.41,678.20 228.90,678.20 229.39,678.20 229.88,678.20 230.37,678.20 230.86,678.20 231.35,678.20 231.84,678.20 232.33,678.20 232.82,678.20 233.31,678.20 233.80,678.19 234.29,678.19 234.78,678.19 235.27,678.18 235.76,678.17 236.25,678.16 236.74,678.15 237.23,678.13 237.72,678.10 238.21,678.06 238.70,678.01 239.19,677.94 239.68,677.86 240.17,677.74 240.66,677.59 241.15,677.41 241.64,677.17 242.13,676.87 242.62,676.50 243.11,676.07 243.60,675.69 244.09,675.05 244.58,674.39 245.07,673.28 245.56,672.54 246.05,671.18 246.54,669.79 247.03,667.60 247.52,664.99 248.01,663.24 248.50,662.06 248.99,659.75 249.48,656.83 249.97,654.88 250.46,652.33 250.95,650.83 251.44,647.04 251.93,641.08 252.42,642.31 252.91,638.03 253.40,635.10 253.89,631.93 254.38,633.13 254.87,631.42 255.36,630.44 255.85,629.05 256.34,628.57 256.83,626.44 257.32,627.73 257.81,628.98 258.30,634.79 258.79,637.05 259.28,636.59 259.77,638.68 260.26,643.80 260.75,646.53 261.24,652.55 261.73,653.97 262.22,654.74 262.71,658.32 263.20,661.14 263.69,663.50 264.18,667.57 264.67,669.70 265.16,671.22 265.65,672.14 266.14,673.23 266.63,674.10 267.12,675.15 267.61,675.89 268.10,676.50 268.59,676.93 269.08,677.26 269.57,677.51 270.06,677.70 270.55,677.84 271.04,677.95 271.53,678.02 272.02,678.08 272.51,678.12 273.00,678.14 273.49,678.16 273.98,678.18 274.47,678.18 274.96,678.19 275.45,678.19 275.94,678.20 276.43,678.20 276.92,678.20 277.41,678.20 277.90,678.20" stroke="#3d7a5a" fill="none" stroke-width="1.25" stroke-linejoin="round"/>
<polyline points="219.10,678.20 219.59,678.20 220.08,678.20 220.57,678.20 221.06,678.20 221.55,678.20 222.04,678.20 222.53,678.20 223.02,678.20 223.51,678.20 224.00,678.20 224.49,678.20 224.98,678.20 225.47,678.20 225.96,678.20 226.45,678.20 226.94,678.20 227.43,678.20 227.92,678.20 228.41,678.20 228.90,678.20 229.39,678.20 229.88,678.20 230.37,678.20 230.86,678.20 231.35,678.20 231.84,678.20 232.33,678.20 232.82,678.20 233.31,678.20 233.80,678.20 234.29,678.20 234.78,678.20 235.27,678.20 235.76,678.20 236.25,678.20 236.74,678.20 237.23,678.20 237.72,678.20 238.21,678.20 238.70,678.20 239.19,678.20 239.68,678.20 240.17,678.20 240.66,678.20 241.15,678.20 241.64,678.20 242.13,678.19 242.62,678.19 243.11,678.18 243.60,678.17 244.09,678.16 244.58,678.14 245.07,678.12 245.56,678.08 246.05,678.03 246.54,677.96 247.03,677.86 247.52,677.73 248.01,677.55 248.50,677.32 248.99,677.03 249.48,676.65 249.97,676.11 250.46,675.57 250.95,674.80 251.44,674.11 251.93,672.67 252.42,671.70 252.91,669.66 253.40,668.11 253.89,666.49 254.38,664.54 254.87,661.94 255.36,658.55 255.85,655.47 256.34,653.75 256.83,650.67 257.32,646.40 257.81,643.06 258.30,640.40 258.79,637.84 259.28,634.27 259.77,633.28 260.26,630.64 260.75,628.76 261.24,626.60 261.73,626.86 262.22,626.40 262.71,628.04 263.20,629.86 263.69,631.63 264.18,632.24 264.67,635.49 265.16,639.39 265.65,643.24 266.14,645.46 266.63,648.42 267.12,652.34 267.61,655.94 268.10,658.11 268.59,660.58 269.08,664.30 269.57,666.81 270.06,668.50 270.55,670.22 271.04,671.59 271.53,673.19 272.02,674.01 272.51,674.96 273.00,675.76 273.49,676.40 273.98,676.81 274.47,677.17 274.96,677.44 275.45,677.65 275.94,677.81 276.43,677.92 276.92,678.01 277.41,678.07 277.90,678.11" stroke="#2f55a4" fill="none" stroke-width="1.25" stroke-linejoin="round"/>
<polyline points="219.10,678.20 219.59,678.20 220.08,678.20 220.57,678.20 221.06,678.20 221.55,678.20 222.04,678.20 222.53,678.20 223.02,678.20 223.51,678.20 224.00,678.20 224.49,678.20 224.98,678.20 225.47,678.20 225.96,678.20 226.45,678.20 226.94,678.20 227.43,678.20 227.92,678.20 228.41,678.20 228.90,678.20 229.39,678.20 229.88,678.20 230.37,678.20 230.86,678.20 231.35,678.20 231.84,678.20 232.33,678.20 232.82,678.20 233.31,678.20 233.80,678.20 234.29,678.20 234.78,678.20 235.27,678.20 235.76,678.20 236.25,678.20 236.74,678.20 237.23,678.20 237.72,678.20 238.21,678.20 238.70,678.20 239.19,678.20 239.68,678.20 240.17,678.20 240.66,678.20 241.15,678.20 241.64,678.19 242.13,678.19 242.62,678.18 243.11,678.18 243.60,678.17 244.09,678.15 244.58,678.13 245.07,678.09 245.56,678.05 246.05,677.98 246.54,677.89 247.03,677.77 247.52,677.61 248.01,677.40 248.50,677.13 248.99,676.77 249.48,676.23 249.97,675.80 250.46,674.95 250.95,674.30 251.44,673.29 251.93,671.75 252.42,670.61 252.91,668.33 253.40,666.81 253.89,665.03 254.38,662.60 254.87,659.63 255.36,656.22 255.85,652.46 256.34,651.11 256.83,647.26 257.32,644.38 257.81,639.39 258.30,638.23 258.79,635.58 259.28,633.01 259.77,630.06 260.26,627.16 260.75,625.96 261.24,625.61 261.73,624.87 262.22,625.49 262.71,627.96 263.20,629.93 263.69,630.33 264.18,633.34 264.67,637.92 265.16,639.64 265.65,643.67 266.14,647.11 266.63,650.64 267.12,654.37 267.61,657.87 268.10,660.21 268.59,662.81 269.08,664.49 269.57,667.73 270.06,668.87 270.55,671.19 271.04,672.50 271.53,673.48 272.02,674.51 272.51,675.46 273.00,676.19 273.49,676.61 273.98,677.01 274.47,677.33 274.96,677.56 275.45,677.74 275.94,677.87 276.43,677.97 276.92,678.04 277.41,678.09 277.90,678.13" stroke="#a7a0e0" fill="none" stroke-width="1.25" stroke-linejoin="round"/>
<polyline points="219.10,678.20 219.59,678.20 220.08,678.20 220.57,678.20 221.06,678.20 221.55,678.20 222.04,678.20 222.53,678.20 223.02,678.20 223.51,678.20 224.00,678.20 224.49,678.20 224.98,678.20 225.47,678.20 225.96,678.20 226.45,678.20 226.94,678.20 227.43,678.20 227.92,678.20 228.41,678.20 228.90,678.20 229.39,678.20 229.88,678.20 230.37,678.20 230.86,678.20 231.35,678.20 231.84,678.20 232.33,678.20 232.82,678.20 233.31,678.20 233.80,678.20 234.29,678.20 234.78,678.20 235.27,678.20 235.76,678.20 236.25,678.20 236.74,678.20 237.23,678.20 237.72,678.20 238.21,678.20 238.70,678.20 239.19,678.20 239.68,678.20 240.17,678.20 240.66,678.20 241.15,678.20 241.64,678.19 242.13,678.19 242.62,678.18 243.11,678.18 243.60,678.17 244.09,678.15 244.58,678.13 245.07,678.09 245.56,678.04 246.05,677.98 246.54,677.89 247.03,677.77 247.52,677.61 248.01,677.39 248.50,677.11 248.99,676.76 249.48,676.31 249.97,675.76 250.46,674.89 250.95,674.27 251.44,673.17 251.93,671.59 252.42,670.73 252.91,668.73 253.40,666.32 253.89,664.09 254.38,662.73 254.87,660.15 255.36,657.29 255.85,652.25 256.34,650.55 256.83,646.09 257.32,642.41 257.81,640.44 258.30,637.48 258.79,633.00 259.28,631.20 259.77,629.82 260.26,627.02 260.75,626.70 261.24,626.10 261.73,626.59 262.22,625.33 262.71,626.04 263.20,628.34 263.69,629.79 264.18,634.52 264.67,637.00 265.16,639.66 265.65,641.94 266.14,645.42 266.63,650.20 267.12,653.90 267.61,656.72 268.10,659.62 268.59,661.73 269.08,665.36 269.57,666.87 270.06,668.97 270.55,670.66 271.04,672.19 271.53,673.53 272.02,674.65 272.51,675.46 273.00,676.10 273.49,676.59 273.98,677.00 274.47,677.32 274.96,677.56 275.45,677.74 275.94,677.87 276.43,677.97 276.92,678.04 277.41,678.09 277.90,678.13" stroke="#6bb04a" fill="none" stroke-width="1.25" stroke-linejoin="round"/>
<polyline points="219.10,678.20 219.59,678.20 220.08,678.20 220.57,678.20 221.06,678.20 221.55,678.20 222.04,678.20 222.53,678.20 223.02,678.20 223.51,678.20 224.00,678.20 224.49,678.20 224.98,678.20 225.47,678.20 225.96,678.20 226.45,678.20 226.94,678.20 227.43,678.20 227.92,678.20 228.41,678.20 228.90,678.20 229.39,678.20 229.88,678.20 230.37,678.20 230.86,678.20 231.35,678.20 231.84,678.20 232.33,678.20 232.82,678.20 233.31,678.20 233.80,678.20 234.29,678.20 234.78,678.20 235.27,678.20 235.76,678.20 236.25,678.20 236.74,678.20 237.23,678.20 237.72,678.20 238.21,678.20 238.70,678.20 239.19,678.20 239.68,678.20 240.17,678.20 240.66,678.20 241.15,678.20 241.64,678.20 242.13,678.19 242.62,678.19 243.11,678.18 243.60,678.17 244.09,678.16 244.58,678.14 245.07,678.12 245.56,678.08 246.05,678.02 246.54,677.95 247.03,677.85 247.52,677.71 248.01,677.52 248.50,677.28 248.99,676.95 249.48,676.54 249.97,675.95 250.46,675.48 250.95,674.65 251.44,673.43 251.93,672.49 252.42,671.23 252.91,669.66 253.40,667.25 253.89,665.33 254.38,661.88 254.87,659.20 255.36,655.90 255.85,654.32 256.34,651.41 256.83,647.97 257.32,643.59 257.81,639.71 258.30,637.07 258.79,634.54 259.28,631.41 259.77,628.62 260.26,626.65 260.75,625.17 261.24,624.20 261.73,624.48 262.22,626.22 262.71,625.65 263.20,628.59 263.69,630.14 264.18,633.22 264.67,635.37 265.16,639.88 265.65,643.20 266.14,646.71 266.63,650.43 267.12,652.16 267.61,656.16 268.10,659.73 268.59,662.40 269.08,664.14 269.57,667.07 270.06,669.33 270.55,670.59 271.04,672.20 271.53,673.29 272.02,674.69 272.51,675.38 273.00,675.98 273.49,676.57 273.98,676.99 274.47,677.31 274.96,677.55 275.45,677.73 275.94,677.87 276.43,677.97 276.92,678.04 277.41,678.09 277.90,678.12" stroke="#f2c523" fill="none" stroke-width="1.25" stroke-linejoin="round"/>
<polyline points="219.10,678.20 219.59,678.20 220.08,678.20 220.57,678.20 221.06,678.20 221.55,678.20 222.04,678.20 222.53,678.20 223.02,678.20 223.51,678.20 224.00,678.20 224.49,678.20 224.98,678.20 225.47,678.20 225.96,678.20 226.45,678.20 226.94,678.20 227.43,678.20 227.92,678.20 228.41,678.20 228.90,678.20 229.39,678.20 229.88,678.20 230.37,678.20 230.86,678.20 231.35,678.20 231.84,678.20 232.33,678.20 232.82,678.20 233.31,678.20 233.80,678.20 234.29,678.20 234.78,678.20 235.27,678.20 235.76,678.20 236.25,678.20 236.74,678.20 237.23,678.20 237.72,678.20 238.21,678.20 238.70,678.20 239.19,678.20 239.68,678.20 240.17,678.20 240.66,678.20 241.15,678.20 241.64,678.19 242.13,678.19 242.62,678.19 243.11,678.18 243.60,678.17 244.09,678.15 244.58,678.13 245.07,678.10 245.56,678.05 246.05,677.99 246.54,677.90 247.03,677.79 247.52,677.63 248.01,677.42 248.50,677.16 248.99,676.81 249.48,676.30 249.97,675.71 250.46,675.25 250.95,674.34 251.44,673.41 251.93,672.18 252.42,670.16 252.91,668.74 253.40,666.37 253.89,664.81 254.38,661.57 254.87,659.53 255.36,657.01 255.85,652.70 256.34,649.01 256.83,647.58 257.32,643.04 257.81,639.63 258.30,637.33 258.79,633.97 259.28,631.79 259.77,629.31 260.26,627.30 260.75,625.12 261.24,624.17 261.73,624.95 262.22,625.74 262.71,625.95 263.20,626.64 263.69,629.81 264.18,631.99 264.67,635.10 265.16,636.87 265.65,640.78 266.14,645.36 266.63,648.75 267.12,651.50 267.61,654.45 268.10,657.42 268.59,661.35 269.08,663.81 269.57,665.47 270.06,667.95 270.55,669.91 271.04,671.47 271.53,672.45 272.02,673.93 272.51,674.77 273.00,675.60 273.49,676.20 273.98,676.67 274.47,677.06 274.96,677.35 275.45,677.58 275.94,677.75 276.43,677.88 276.92,677.97 277.41,678.04 277.90,678.09" stroke="#c0123e" fill="none" stroke-width="1.25" stroke-linejoin="round"/>
<rect x="218.50" y="618.60" width="61" height="60.40" fill="none" stroke="#111" stroke-width="1.5"/>
<path d="M218.50 620.40h1.4M218.50 623.30h1.4M218.50 626.20h1.4M218.50 629.10h1.4M218.50 632.00h1.4M218.50 634.90h1.4M218.50 637.80h1.4M218.50 640.70h1.4M218.50 643.60h1.4M218.50 646.50h1.4M218.50 649.40h1.4M218.50 652.30h1.4M218.50 655.20h1.4M218.50 658.10h1.4M218.50 661.00h1.4M218.50 663.90h1.4M218.50 666.80h1.4M218.50 669.70h1.4M218.50 672.60h1.4M218.50 675.50h1.4" stroke="#000" fill="none" stroke-width="0.5"/>
<line x1="216.10" y1="679.00" x2="218.50" y2="679.00" stroke="#231f20" stroke-width="1.0"/>
<text x="213.10" y="681.20" font-size="6.4" text-anchor="end" fill="#231f20" stroke="#231f20" stroke-width="0.22">0</text>
<line x1="216.10" y1="667.40" x2="218.50" y2="667.40" stroke="#231f20" stroke-width="1.0"/>
<text x="213.10" y="669.60" font-size="6.4" text-anchor="end" fill="#231f20" stroke="#231f20" stroke-width="0.22">20</text>
<line x1="216.10" y1="655.80" x2="218.50" y2="655.80" stroke="#231f20" stroke-width="1.0"/>
<text x="213.10" y="658.00" font-size="6.4" text-anchor="end" fill="#231f20" stroke="#231f20" stroke-width="0.22">40</text>
<line x1="216.10" y1="644.20" x2="218.50" y2="644.20" stroke="#231f20" stroke-width="1.0"/>
<text x="213.10" y="646.40" font-size="6.4" text-anchor="end" fill="#231f20" stroke="#231f20" stroke-width="0.22">60</text>
<line x1="216.10" y1="632.60" x2="218.50" y2="632.60" stroke="#231f20" stroke-width="1.0"/>
<text x="213.10" y="634.80" font-size="6.4" text-anchor="end" fill="#231f20" stroke="#231f20" stroke-width="0.22">80</text>
<line x1="216.10" y1="621.00" x2="218.50" y2="621.00" stroke="#231f20" stroke-width="1.0"/>
<text x="213.10" y="623.20" font-size="6.4" text-anchor="end" fill="#231f20" stroke="#231f20" stroke-width="0.22">100</text>
<path d="M220.54 679.00v1.5M222.23 679.00v1.5M223.62 679.00v1.5M224.79 679.00v1.5M225.80 679.00v1.5M226.70 679.00v1.5M227.50 679.00v2.6M232.77 679.00v1.5M235.85 679.00v1.5M238.04 679.00v1.5M239.73 679.00v1.5M241.12 679.00v1.5M242.29 679.00v1.5M243.30 679.00v1.5M244.20 679.00v1.5M245.00 679.00v2.6M250.27 679.00v1.5M253.35 679.00v1.5M255.54 679.00v1.5M257.23 679.00v1.5M258.62 679.00v1.5M259.79 679.00v1.5M260.80 679.00v1.5M261.70 679.00v1.5M262.50 679.00v2.6M267.77 679.00v1.5M270.85 679.00v1.5M273.04 679.00v1.5M274.73 679.00v1.5M276.12 679.00v1.5M277.29 679.00v1.5M278.30 679.00v1.5M279.20 679.00v1.5" stroke="#000" fill="none" stroke-width="0.7"/>
<text x="226.70" y="692.20" font-size="7.2" text-anchor="middle" fill="#231f20" stroke="#231f20" stroke-width="0.22">10</text>
<text x="230.90" y="688.40" font-size="4.6" text-anchor="start" fill="#231f20" stroke="#231f20" stroke-width="0.22">2</text>
<text x="244.20" y="692.20" font-size="7.2" text-anchor="middle" fill="#231f20" stroke="#231f20" stroke-width="0.22">10</text>
<text x="248.40" y="688.40" font-size="4.6" text-anchor="start" fill="#231f20" stroke="#231f20" stroke-width="0.22">3</text>
<text x="261.70" y="692.20" font-size="7.2" text-anchor="middle" fill="#231f20" stroke="#231f20" stroke-width="0.22">10</text>
<text x="265.90" y="688.40" font-size="4.6" text-anchor="start" fill="#231f20" stroke="#231f20" stroke-width="0.22">4</text>
<text x="25.90" y="648.90" font-size="10.2" text-anchor="middle" fill="#231f20" stroke="#231f20" stroke-width="0.22" textLength="66" lengthAdjust="spacingAndGlyphs" transform="rotate(-90 25.90 648.90)">Normalized to mode</text>
<text x="164.00" y="705.20" font-size="10.0" text-anchor="middle" fill="#231f20" stroke="#231f20" stroke-width="0.22" textLength="114" lengthAdjust="spacingAndGlyphs" xml:space="preserve">PE-TpoR staining for  TpoR in Ba/F3:</text>
<text x="80.00" y="715.50" font-size="10.0" text-anchor="middle" fill="#231f20" stroke="#231f20" stroke-width="0.22" textLength="26" lengthAdjust="spacingAndGlyphs">Parental</text>
<text x="164.60" y="715.50" font-size="10.0" text-anchor="middle" fill="#231f20" stroke="#231f20" stroke-width="0.22" textLength="27.7" lengthAdjust="spacingAndGlyphs">TpoR WT</text>
<text x="248.80" y="715.50" font-size="10.0" text-anchor="middle" fill="#231f20" stroke="#231f20" stroke-width="0.22" textLength="40.4" lengthAdjust="spacingAndGlyphs">TpoR H499C</text>
<text x="41.50" y="731.20" font-size="7.4" text-anchor="start" fill="#231f20" stroke="#231f20" stroke-width="0.22" textLength="112.3" lengthAdjust="spacingAndGlyphs">CHX treatment (50 μg/mL, in hours):</text>
<line x1="158.50" y1="725.50" x2="167.70" y2="725.50" stroke="#c0123e" stroke-width="1.6"/>
<text x="170.80" y="727.90" font-size="7.0" text-anchor="start" fill="#231f20" stroke="#231f20" stroke-width="0.22">no CHX</text>
<line x1="158.50" y1="732.30" x2="167.70" y2="732.30" stroke="#2f55a4" stroke-width="1.6"/>
<text x="170.80" y="734.70" font-size="7.0" text-anchor="start" fill="#231f20" stroke="#231f20" stroke-width="0.22">H1</text>
<line x1="206.00" y1="725.50" x2="215.20" y2="725.50" stroke="#6bb04a" stroke-width="1.6"/>
<text x="218.30" y="727.90" font-size="7.0" text-anchor="start" fill="#231f20" stroke="#231f20" stroke-width="0.22">H3</text>
<line x1="206.00" y1="732.30" x2="215.20" y2="732.30" stroke="#a7a0e0" stroke-width="1.6"/>
<text x="218.30" y="734.70" font-size="7.0" text-anchor="start" fill="#231f20" stroke="#231f20" stroke-width="0.22">H6</text>
<line x1="237.00" y1="725.50" x2="246.20" y2="725.50" stroke="#f2c523" stroke-width="1.6"/>
<text x="249.30" y="727.90" font-size="7.0" text-anchor="start" fill="#231f20" stroke="#231f20" stroke-width="0.22">H9</text>
<line x1="237.00" y1="732.30" x2="246.20" y2="732.30" stroke="#3d7a5a" stroke-width="1.6"/>
<text x="249.30" y="734.70" font-size="7.0" text-anchor="start" fill="#231f20" stroke="#231f20" stroke-width="0.22">H24</text>
<line x1="299.00" y1="552.80" x2="310.50" y2="552.80" stroke="#b4b4b4" stroke-width="0.9"/>
<line x1="364.00" y1="552.80" x2="412.30" y2="552.80" stroke="#b4b4b4" stroke-width="0.9"/>
<line x1="454.00" y1="552.80" x2="474.60" y2="552.80" stroke="#b4b4b4" stroke-width="0.9"/>
<line x1="299.00" y1="620.00" x2="336.50" y2="620.00" stroke="#b4b4b4" stroke-width="0.9"/>
<line x1="366.00" y1="620.00" x2="413.50" y2="620.00" stroke="#b4b4b4" stroke-width="0.9"/>
<line x1="449.00" y1="620.00" x2="474.60" y2="620.00" stroke="#b4b4b4" stroke-width="0.9"/>
<text x="299.60" y="551.00" font-size="6.4" text-anchor="start" fill="#333" stroke="#333" stroke-width="0.22" style="font-style:italic">EC</text>
<text x="299.60" y="627.00" font-size="6.4" text-anchor="start" fill="#333" stroke="#333" stroke-width="0.22" style="font-style:italic">IC</text>
<polygon points="322.00,541.60 328.80,540.20 330.00,546.20 323.20,548.40" fill="#cfcbef" stroke="none" stroke-width="1" stroke-linejoin="round"/>
<polygon points="316.20,534.60 320.60,532.60 323.00,535.40 322.80,543.80 320.60,546.00 316.60,545.20 315.60,540.00" fill="#2747a6" stroke="#1d3a8e" stroke-width="0.3" stroke-linejoin="round"/>
<polygon points="317.40,535.60 320.80,534.20 321.80,536.40 321.60,543.20 320.00,544.60 317.40,543.80 316.80,540.00" fill="#3d66c8" stroke="none" stroke-width="1" stroke-linejoin="round"/>
<polygon points="328.80,537.60 332.60,535.60 335.60,537.80 335.40,544.60 332.20,546.60 329.00,545.40 328.40,541.00" fill="#2747a6" stroke="#1d3a8e" stroke-width="0.3" stroke-linejoin="round"/>
<polygon points="329.80,538.40 332.60,537.00 334.60,538.60 334.40,544.00 332.20,545.40 329.80,544.60 329.40,541.00" fill="#3d66c8" stroke="none" stroke-width="1" stroke-linejoin="round"/>
<ellipse cx="319.4" cy="538.6" rx="1.2" ry="1.7" fill="#86c0f5" opacity="0.85"/>
<ellipse cx="332.0" cy="540.2" rx="1.2" ry="1.7" fill="#86c0f5" opacity="0.85"/>
<path d="M333.5 546.0 C336.5 550.5 340.0 550.5 342.5 547.0 C345.0 543.0 347.5 545.5 349.5 550.0 L353.5 557.5" stroke="#3158b8" fill="none" stroke-width="1.5"/>
<path d="M322.0 545.5 L318.8 549.6 M318.8 549.6 l-2.6 1.0 l-0.4 3.0 l2.2 1.6 l2.6 -1.0 l0.4 -3.0 z M315.8 553.6 l-2.0 2.4 l1.4 2.6 l2.8 0.0 l1.0 -2.6" stroke="#e2b55a" fill="none" stroke-width="1.3"/>
<path d="M322.0 545.0 L327.0 543.0" stroke="#c9a052" fill="none" stroke-width="1.8"/>
<path d="M352.0 553.5 l1.0 3.6 l3.0 1.0 M349.8 557.6 l3.2 -0.2 l2.0 2.8" stroke="#e8be6e" fill="none" stroke-width="1.1"/>
<path d="M350.00 566.10 Q355.60 571.40 361.20 574.30 Q362.20 578.10 361.20 581.90 Q355.60 579.00 350.00 573.70 Q349.00 569.90 350.00 566.10 Z" fill="#c6c2ec"/>
<path d="M351.60 568.31 Q355.60 573.16 359.60 575.61 Q360.10 577.70 359.60 579.79 Q355.60 577.34 351.60 572.49 Q351.10 570.40 351.60 568.31 Z" fill="#ebeafa"/>
<path d="M350.00 579.70 Q355.60 585.00 361.20 587.90 Q362.20 591.70 361.20 595.50 Q355.60 592.60 350.00 587.30 Q349.00 583.50 350.00 579.70 Z" fill="#c6c2ec"/>
<path d="M351.60 581.91 Q355.60 586.76 359.60 589.21 Q360.10 591.30 359.60 593.39 Q355.60 590.94 351.60 586.09 Q351.10 584.00 351.60 581.91 Z" fill="#ebeafa"/>
<path d="M350.00 593.30 Q355.60 598.60 361.20 601.50 Q362.20 605.30 361.20 609.10 Q355.60 606.20 350.00 600.90 Q349.00 597.10 350.00 593.30 Z" fill="#c6c2ec"/>
<path d="M351.60 595.51 Q355.60 600.36 359.60 602.81 Q360.10 604.90 359.60 606.99 Q355.60 604.54 351.60 599.69 Q351.10 597.60 351.60 595.51 Z" fill="#ebeafa"/>
<path d="M350.00 606.90 Q355.60 612.20 361.20 615.10 Q362.20 618.90 361.20 622.70 Q355.60 619.80 350.00 614.50 Q349.00 610.70 350.00 606.90 Z" fill="#c6c2ec"/>
<path d="M351.60 609.11 Q355.60 613.96 359.60 616.41 Q360.10 618.50 359.60 620.59 Q355.60 618.14 351.60 613.29 Q351.10 611.20 351.60 609.11 Z" fill="#ebeafa"/>
<path d="M350.00 620.50 Q355.60 625.80 361.20 628.70 Q362.20 632.50 361.20 636.30 Q355.60 633.40 350.00 628.10 Q349.00 624.30 350.00 620.50 Z" fill="#c6c2ec"/>
<path d="M351.60 622.71 Q355.60 627.56 359.60 630.01 Q360.10 632.10 359.60 634.19 Q355.60 631.74 351.60 626.89 Q351.10 624.80 351.60 622.71 Z" fill="#ebeafa"/>
<path d="M361.40 560.70 Q355.60 562.60 349.80 566.10 Q347.60 569.90 349.80 573.70 Q355.60 570.20 361.40 568.30 Q363.60 564.50 361.40 560.70 Z" fill="#2a4aa8" stroke="#20408f" stroke-width="0.3"/>
<path d="M360.00 562.34 Q355.70 564.24 351.40 567.34 Q350.60 569.70 351.40 572.06 Q355.70 568.96 360.00 567.06 Q360.80 564.70 360.00 562.34 Z" fill="#3d67c9"/>
<ellipse cx="356.40" cy="566.20" rx="1.8" ry="1.1" fill="#86c0f5" opacity="0.9" transform="rotate(-27 356.40 566.20)"/>
<path d="M361.40 574.30 Q355.60 576.20 349.80 579.70 Q347.60 583.50 349.80 587.30 Q355.60 583.80 361.40 581.90 Q363.60 578.10 361.40 574.30 Z" fill="#2a4aa8" stroke="#20408f" stroke-width="0.3"/>
<path d="M360.00 575.94 Q355.70 577.84 351.40 580.94 Q350.60 583.30 351.40 585.66 Q355.70 582.56 360.00 580.66 Q360.80 578.30 360.00 575.94 Z" fill="#3d67c9"/>
<ellipse cx="356.40" cy="579.80" rx="1.8" ry="1.1" fill="#86c0f5" opacity="0.9" transform="rotate(-27 356.40 579.80)"/>
<path d="M361.40 587.90 Q355.60 589.80 349.80 593.30 Q347.60 597.10 349.80 600.90 Q355.60 597.40 361.40 595.50 Q363.60 591.70 361.40 587.90 Z" fill="#2a4aa8" stroke="#20408f" stroke-width="0.3"/>
<path d="M360.00 589.54 Q355.70 591.44 351.40 594.54 Q350.60 596.90 351.40 599.26 Q355.70 596.16 360.00 594.26 Q360.80 591.90 360.00 589.54 Z" fill="#3d67c9"/>
<ellipse cx="356.40" cy="593.40" rx="1.8" ry="1.1" fill="#86c0f5" opacity="0.9" transform="rotate(-27 356.40 593.40)"/>
<path d="M361.40 601.50 Q355.60 603.40 349.80 606.90 Q347.60 610.70 349.80 614.50 Q355.60 611.00 361.40 609.10 Q363.60 605.30 361.40 601.50 Z" fill="#2a4aa8" stroke="#20408f" stroke-width="0.3"/>
<path d="M360.00 603.14 Q355.70 605.04 351.40 608.14 Q350.60 610.50 351.40 612.86 Q355.70 609.76 360.00 607.86 Q360.80 605.50 360.00 603.14 Z" fill="#3d67c9"/>
<ellipse cx="356.40" cy="607.00" rx="1.8" ry="1.1" fill="#86c0f5" opacity="0.9" transform="rotate(-27 356.40 607.00)"/>
<path d="M361.40 615.10 Q355.60 617.00 349.80 620.50 Q347.60 624.30 349.80 628.10 Q355.60 624.60 361.40 622.70 Q363.60 618.90 361.40 615.10 Z" fill="#2a4aa8" stroke="#20408f" stroke-width="0.3"/>
<path d="M360.00 616.74 Q355.70 618.64 351.40 621.74 Q350.60 624.10 351.40 626.46 Q355.70 623.36 360.00 621.46 Q360.80 619.10 360.00 616.74 Z" fill="#3d67c9"/>
<ellipse cx="356.40" cy="620.60" rx="1.8" ry="1.1" fill="#86c0f5" opacity="0.9" transform="rotate(-27 356.40 620.60)"/>
<path d="M358.0 559.5 l4.0 1.0 l3.0 -1.8 M365.0 558.7 l2.4 -1.6 l2.6 0.8 l0.4 2.6 l-2.4 1.6 l-2.6 -0.8 z" stroke="#7cc6c8" fill="none" stroke-width="1.1"/>
<path d="M356.5 560.0 L359.5 563.5" stroke="#6ab7b9" fill="none" stroke-width="2.0"/>
<path d="M349.5 589.0 l2.2 2.0 l-0.6 3.0" stroke="#e8be6e" fill="none" stroke-width="1.0"/>
<polygon points="349.60,622.00 355.80,622.60 356.20,628.00 351.00,630.60 349.80,628.00" fill="#d99a94" stroke="#b46c6a" stroke-width="0.4" stroke-linejoin="round"/>
<path d="M349.6 623.5 l-3.0 -1.6 M346.6 621.9 l-1.2 -2.6 l1.6 -2.2 l2.6 0.4 l1.0 2.4 l-1.6 2.2 z M345.4 619.3 l-2.2 0.4 l-1.4 2.4 l1.2 2.4 l2.6 -0.2" stroke="#c4827e" fill="none" stroke-width="1.0"/>
<path d="M353.5 629.8 C357.0 630.5 361.5 632.5 361.0 635.0 C360.5 637.0 358.0 637.5 356.5 637.6" stroke="#3158b8" fill="none" stroke-width="1.4"/>
<text x="307.00" y="564.60" font-size="8.4" text-anchor="start" fill="#231f20" stroke="#231f20" stroke-width="0.22" textLength="18" lengthAdjust="spacingAndGlyphs">W491</text>
<text x="362.00" y="548.20" font-size="8.4" text-anchor="start" fill="#231f20" stroke="#231f20" stroke-width="0.22" textLength="15" lengthAdjust="spacingAndGlyphs">L498</text>
<line x1="362.00" y1="547.00" x2="356.00" y2="555.00" stroke="#111" stroke-width="0.9"/>
<text x="370.80" y="569.40" font-size="8.4" text-anchor="start" fill="#8fcfd1" stroke="#8fcfd1" stroke-width="0.22" textLength="17" lengthAdjust="spacingAndGlyphs">H499</text>
<text x="323.80" y="594.80" font-size="8.4" text-anchor="start" fill="#231f20" stroke="#231f20" stroke-width="0.22" textLength="15" lengthAdjust="spacingAndGlyphs">S505</text>
<line x1="338.80" y1="592.00" x2="349.40" y2="589.60" stroke="#111" stroke-width="0.9"/>
<text x="319.00" y="630.60" font-size="8.4" text-anchor="start" fill="#d26f8e" stroke="#d26f8e" stroke-width="0.22" textLength="18.7" lengthAdjust="spacingAndGlyphs">W515</text>
<text x="347.50" y="648.70" font-size="8.4" text-anchor="middle" fill="#231f20" stroke="#231f20" stroke-width="0.22" textLength="61" lengthAdjust="spacingAndGlyphs">TpoR TM-monomer</text>
<path d="M422.0 539.0 l0.4 -4.0 l1.6 -2.2 M424.0 532.8 l-2.4 -0.8 l-0.6 -2.8 l2.0 -1.8 l2.6 0.6 l0.6 2.8 z M421.0 529.2 l-2.6 -0.6 l-0.8 -2.8 l1.8 -1.8 l2.6 0.6 l0.8 2.6" stroke="#e2b55a" fill="none" stroke-width="1.4"/>
<polygon points="420.40,536.00 424.40,535.20 425.40,539.60 421.00,540.40" fill="#e2b55a" stroke="none" stroke-width="1" stroke-linejoin="round"/>
<path d="M441.0 539.0 l-0.8 -4.2 l1.4 -2.0 M441.6 532.8 l2.4 -0.8 l0.6 -2.8 l-1.8 -1.8 l-2.4 0.8 l-0.6 2.8 z M443.8 528.4 l0.6 -2.8 l-1.6 -1.8" stroke="#e2b55a" fill="none" stroke-width="1.4"/>
<path d="M416.80 540.70 Q421.80 545.90 426.80 548.70 Q427.80 552.40 426.80 556.10 Q421.80 553.30 416.80 548.10 Q415.80 544.40 416.80 540.70 Z" fill="#c6c2ec"/>
<path d="M418.40 542.87 Q421.80 547.62 425.20 549.97 Q425.70 552.00 425.20 554.03 Q421.80 551.69 418.40 546.93 Q417.90 544.90 418.40 542.87 Z" fill="#ebeafa"/>
<path d="M417.60 554.10 Q422.60 559.30 427.60 562.10 Q428.60 565.80 427.60 569.50 Q422.60 566.70 417.60 561.50 Q416.60 557.80 417.60 554.10 Z" fill="#c6c2ec"/>
<path d="M419.20 556.26 Q422.60 561.01 426.00 563.37 Q426.50 565.40 426.00 567.43 Q422.60 565.08 419.20 560.33 Q418.70 558.30 419.20 556.26 Z" fill="#ebeafa"/>
<path d="M418.40 567.50 Q423.40 572.70 428.40 575.50 Q429.40 579.20 428.40 582.90 Q423.40 580.10 418.40 574.90 Q417.40 571.20 418.40 567.50 Z" fill="#c6c2ec"/>
<path d="M420.00 569.66 Q423.40 574.42 426.80 576.76 Q427.30 578.80 426.80 580.83 Q423.40 578.49 420.00 573.73 Q419.50 571.70 420.00 569.66 Z" fill="#ebeafa"/>
<path d="M419.20 580.90 Q424.20 586.10 429.20 588.90 Q430.20 592.60 429.20 596.30 Q424.20 593.50 419.20 588.30 Q418.20 584.60 419.20 580.90 Z" fill="#c6c2ec"/>
<path d="M420.80 583.07 Q424.20 587.82 427.60 590.17 Q428.10 592.20 427.60 594.24 Q424.20 591.89 420.80 587.13 Q420.30 585.10 420.80 583.07 Z" fill="#ebeafa"/>
<path d="M420.00 594.30 Q425.00 599.50 430.00 602.30 Q431.00 606.00 430.00 609.70 Q425.00 606.90 420.00 601.70 Q419.00 598.00 420.00 594.30 Z" fill="#c6c2ec"/>
<path d="M421.60 596.47 Q425.00 601.22 428.40 603.57 Q428.90 605.60 428.40 607.63 Q425.00 605.28 421.60 600.53 Q421.10 598.50 421.60 596.47 Z" fill="#ebeafa"/>
<path d="M420.80 607.70 Q425.80 612.90 430.80 615.70 Q431.80 619.40 430.80 623.10 Q425.80 620.30 420.80 615.10 Q419.80 611.40 420.80 607.70 Z" fill="#c6c2ec"/>
<path d="M422.40 609.87 Q425.80 614.62 429.20 616.97 Q429.70 619.00 429.20 621.03 Q425.80 618.69 422.40 613.93 Q421.90 611.90 422.40 609.87 Z" fill="#ebeafa"/>
<path d="M426.60 535.30 Q421.40 537.20 416.20 540.70 Q414.00 544.40 416.20 548.10 Q421.40 544.60 426.60 542.70 Q428.80 539.00 426.60 535.30 Z" fill="#2a4aa8" stroke="#20408f" stroke-width="0.3"/>
<path d="M425.20 536.91 Q421.50 538.81 417.80 541.91 Q417.00 544.20 417.80 546.49 Q421.50 543.39 425.20 541.49 Q426.00 539.20 425.20 536.91 Z" fill="#3d67c9"/>
<ellipse cx="422.20" cy="540.70" rx="1.8" ry="1.1" fill="#86c0f5" opacity="0.9" transform="rotate(-27 422.20 540.70)"/>
<path d="M427.40 548.70 Q422.20 550.60 417.00 554.10 Q414.80 557.80 417.00 561.50 Q422.20 558.00 427.40 556.10 Q429.60 552.40 427.40 548.70 Z" fill="#2a4aa8" stroke="#20408f" stroke-width="0.3"/>
<path d="M426.00 550.31 Q422.30 552.21 418.60 555.31 Q417.80 557.60 418.60 559.89 Q422.30 556.79 426.00 554.89 Q426.80 552.60 426.00 550.31 Z" fill="#3d67c9"/>
<ellipse cx="423.00" cy="554.10" rx="1.8" ry="1.1" fill="#86c0f5" opacity="0.9" transform="rotate(-27 423.00 554.10)"/>
<path d="M428.20 562.10 Q423.00 564.00 417.80 567.50 Q415.60 571.20 417.80 574.90 Q423.00 571.40 428.20 569.50 Q430.40 565.80 428.20 562.10 Z" fill="#2a4aa8" stroke="#20408f" stroke-width="0.3"/>
<path d="M426.80 563.71 Q423.10 565.61 419.40 568.71 Q418.60 571.00 419.40 573.29 Q423.10 570.19 426.80 568.29 Q427.60 566.00 426.80 563.71 Z" fill="#3d67c9"/>
<ellipse cx="423.80" cy="567.50" rx="1.8" ry="1.1" fill="#86c0f5" opacity="0.9" transform="rotate(-27 423.80 567.50)"/>
<path d="M429.00 575.50 Q423.80 577.40 418.60 580.90 Q416.40 584.60 418.60 588.30 Q423.80 584.80 429.00 582.90 Q431.20 579.20 429.00 575.50 Z" fill="#2a4aa8" stroke="#20408f" stroke-width="0.3"/>
<path d="M427.60 577.11 Q423.90 579.01 420.20 582.11 Q419.40 584.40 420.20 586.69 Q423.90 583.59 427.60 581.69 Q428.40 579.40 427.60 577.11 Z" fill="#3d67c9"/>
<ellipse cx="424.60" cy="580.90" rx="1.8" ry="1.1" fill="#86c0f5" opacity="0.9" transform="rotate(-27 424.60 580.90)"/>
<path d="M429.80 588.90 Q424.60 590.80 419.40 594.30 Q417.20 598.00 419.40 601.70 Q424.60 598.20 429.80 596.30 Q432.00 592.60 429.80 588.90 Z" fill="#2a4aa8" stroke="#20408f" stroke-width="0.3"/>
<path d="M428.40 590.51 Q424.70 592.41 421.00 595.51 Q420.20 597.80 421.00 600.09 Q424.70 596.99 428.40 595.09 Q429.20 592.80 428.40 590.51 Z" fill="#3d67c9"/>
<ellipse cx="425.40" cy="594.30" rx="1.8" ry="1.1" fill="#86c0f5" opacity="0.9" transform="rotate(-27 425.40 594.30)"/>
<path d="M430.60 602.30 Q425.40 604.20 420.20 607.70 Q418.00 611.40 420.20 615.10 Q425.40 611.60 430.60 609.70 Q432.80 606.00 430.60 602.30 Z" fill="#2a4aa8" stroke="#20408f" stroke-width="0.3"/>
<path d="M429.20 603.91 Q425.50 605.81 421.80 608.91 Q421.00 611.20 421.80 613.49 Q425.50 610.39 429.20 608.49 Q430.00 606.20 429.20 603.91 Z" fill="#3d67c9"/>
<ellipse cx="426.20" cy="607.70" rx="1.8" ry="1.1" fill="#86c0f5" opacity="0.9" transform="rotate(-27 426.20 607.70)"/>
<path d="M438.10 540.70 Q443.10 545.90 448.10 548.70 Q449.10 552.40 448.10 556.10 Q443.10 553.30 438.10 548.10 Q437.10 544.40 438.10 540.70 Z" fill="#c6c2ec"/>
<path d="M439.70 542.87 Q443.10 547.62 446.50 549.97 Q447.00 552.00 446.50 554.03 Q443.10 551.69 439.70 546.93 Q439.20 544.90 439.70 542.87 Z" fill="#ebeafa"/>
<path d="M437.70 554.10 Q442.70 559.30 447.70 562.10 Q448.70 565.80 447.70 569.50 Q442.70 566.70 437.70 561.50 Q436.70 557.80 437.70 554.10 Z" fill="#c6c2ec"/>
<path d="M439.30 556.26 Q442.70 561.01 446.10 563.37 Q446.60 565.40 446.10 567.43 Q442.70 565.08 439.30 560.33 Q438.80 558.30 439.30 556.26 Z" fill="#ebeafa"/>
<path d="M437.30 567.50 Q442.30 572.70 447.30 575.50 Q448.30 579.20 447.30 582.90 Q442.30 580.10 437.30 574.90 Q436.30 571.20 437.30 567.50 Z" fill="#c6c2ec"/>
<path d="M438.90 569.66 Q442.30 574.42 445.70 576.76 Q446.20 578.80 445.70 580.83 Q442.30 578.49 438.90 573.73 Q438.40 571.70 438.90 569.66 Z" fill="#ebeafa"/>
<path d="M436.90 580.90 Q441.90 586.10 446.90 588.90 Q447.90 592.60 446.90 596.30 Q441.90 593.50 436.90 588.30 Q435.90 584.60 436.90 580.90 Z" fill="#c6c2ec"/>
<path d="M438.50 583.07 Q441.90 587.82 445.30 590.17 Q445.80 592.20 445.30 594.24 Q441.90 591.89 438.50 587.13 Q438.00 585.10 438.50 583.07 Z" fill="#ebeafa"/>
<path d="M436.50 594.30 Q441.50 599.50 446.50 602.30 Q447.50 606.00 446.50 609.70 Q441.50 606.90 436.50 601.70 Q435.50 598.00 436.50 594.30 Z" fill="#c6c2ec"/>
<path d="M438.10 596.47 Q441.50 601.22 444.90 603.57 Q445.40 605.60 444.90 607.63 Q441.50 605.28 438.10 600.53 Q437.60 598.50 438.10 596.47 Z" fill="#ebeafa"/>
<path d="M436.10 607.70 Q441.10 612.90 446.10 615.70 Q447.10 619.40 446.10 623.10 Q441.10 620.30 436.10 615.10 Q435.10 611.40 436.10 607.70 Z" fill="#c6c2ec"/>
<path d="M437.70 609.87 Q441.10 614.62 444.50 616.97 Q445.00 619.00 444.50 621.03 Q441.10 618.69 437.70 613.93 Q437.20 611.90 437.70 609.87 Z" fill="#ebeafa"/>
<path d="M448.50 535.30 Q443.30 537.20 438.10 540.70 Q435.90 544.40 438.10 548.10 Q443.30 544.60 448.50 542.70 Q450.70 539.00 448.50 535.30 Z" fill="#2a4aa8" stroke="#20408f" stroke-width="0.3"/>
<path d="M447.10 536.91 Q443.40 538.81 439.70 541.91 Q438.90 544.20 439.70 546.49 Q443.40 543.39 447.10 541.49 Q447.90 539.20 447.10 536.91 Z" fill="#3d67c9"/>
<ellipse cx="444.10" cy="540.70" rx="1.8" ry="1.1" fill="#86c0f5" opacity="0.9" transform="rotate(-27 444.10 540.70)"/>
<path d="M448.10 548.70 Q442.90 550.60 437.70 554.10 Q435.50 557.80 437.70 561.50 Q442.90 558.00 448.10 556.10 Q450.30 552.40 448.10 548.70 Z" fill="#2a4aa8" stroke="#20408f" stroke-width="0.3"/>
<path d="M446.70 550.31 Q443.00 552.21 439.30 555.31 Q438.50 557.60 439.30 559.89 Q443.00 556.79 446.70 554.89 Q447.50 552.60 446.70 550.31 Z" fill="#3d67c9"/>
<ellipse cx="443.70" cy="554.10" rx="1.8" ry="1.1" fill="#86c0f5" opacity="0.9" transform="rotate(-27 443.70 554.10)"/>
<path d="M447.70 562.10 Q442.50 564.00 437.30 567.50 Q435.10 571.20 437.30 574.90 Q442.50 571.40 447.70 569.50 Q449.90 565.80 447.70 562.10 Z" fill="#2a4aa8" stroke="#20408f" stroke-width="0.3"/>
<path d="M446.30 563.71 Q442.60 565.61 438.90 568.71 Q438.10 571.00 438.90 573.29 Q442.60 570.19 446.30 568.29 Q447.10 566.00 446.30 563.71 Z" fill="#3d67c9"/>
<ellipse cx="443.30" cy="567.50" rx="1.8" ry="1.1" fill="#86c0f5" opacity="0.9" transform="rotate(-27 443.30 567.50)"/>
<path d="M447.30 575.50 Q442.10 577.40 436.90 580.90 Q434.70 584.60 436.90 588.30 Q442.10 584.80 447.30 582.90 Q449.50 579.20 447.30 575.50 Z" fill="#2a4aa8" stroke="#20408f" stroke-width="0.3"/>
<path d="M445.90 577.11 Q442.20 579.01 438.50 582.11 Q437.70 584.40 438.50 586.69 Q442.20 583.59 445.90 581.69 Q446.70 579.40 445.90 577.11 Z" fill="#3d67c9"/>
<ellipse cx="442.90" cy="580.90" rx="1.8" ry="1.1" fill="#86c0f5" opacity="0.9" transform="rotate(-27 442.90 580.90)"/>
<path d="M446.90 588.90 Q441.70 590.80 436.50 594.30 Q434.30 598.00 436.50 601.70 Q441.70 598.20 446.90 596.30 Q449.10 592.60 446.90 588.90 Z" fill="#2a4aa8" stroke="#20408f" stroke-width="0.3"/>
<path d="M445.50 590.51 Q441.80 592.41 438.10 595.51 Q437.30 597.80 438.10 600.09 Q441.80 596.99 445.50 595.09 Q446.30 592.80 445.50 590.51 Z" fill="#3d67c9"/>
<ellipse cx="442.50" cy="594.30" rx="1.8" ry="1.1" fill="#86c0f5" opacity="0.9" transform="rotate(-27 442.50 594.30)"/>
<path d="M446.50 602.30 Q441.30 604.20 436.10 607.70 Q433.90 611.40 436.10 615.10 Q441.30 611.60 446.50 609.70 Q448.70 606.00 446.50 602.30 Z" fill="#2a4aa8" stroke="#20408f" stroke-width="0.3"/>
<path d="M445.10 603.91 Q441.40 605.81 437.70 608.91 Q436.90 611.20 437.70 613.49 Q441.40 610.39 445.10 608.49 Q445.90 606.20 445.10 603.91 Z" fill="#3d67c9"/>
<ellipse cx="442.10" cy="607.70" rx="1.8" ry="1.1" fill="#86c0f5" opacity="0.9" transform="rotate(-27 442.10 607.70)"/>
<path d="M424.5 561.0 l3.0 -3.0 l1.8 3.0 l-0.6 4.0 M430.5 566.0 l1.6 -4.0 l2.0 -1.6 l1.4 3.0 l2.2 -2.0 M433.5 558.5 l2.4 4.6 M437.0 560.0 l1.6 4.5" stroke="#e2b55a" fill="none" stroke-width="1.6"/>
<path d="M426.5 586.0 l3.0 -2.0 l1.8 2.6 l-0.4 2.0 M433.5 586.0 l2.2 -2.0 l2.6 1.6 l1.0 3.0" stroke="#e2b55a" fill="none" stroke-width="1.8"/>
<path d="M406.8 566.8 l6.0 -2.4 l4.4 0.8 M408.0 568.2 l5.4 -1.2" stroke="#7cc6c8" fill="none" stroke-width="1.6"/>
<polygon points="414.50,561.50 419.50,560.50 420.50,567.50 415.50,569.00" fill="#8fd3d3" stroke="none" stroke-width="1" stroke-linejoin="round" opacity="0.8"/>
<path d="M457.0 566.8 l-6.0 -2.6 l-4.4 0.4 M456.0 568.4 l-4.8 -1.4" stroke="#7cc6c8" fill="none" stroke-width="1.6"/>
<path d="M417.2 621.6 l2.0 -1.8 l3.0 0.6 l0.6 3.0 l-2.0 1.8 l-3.0 -0.6 z M422.8 623.4 l3.0 -0.6" stroke="#c98884" fill="none" stroke-width="1.3"/>
<polygon points="435.00,620.00 441.00,618.80 446.50,620.20 448.00,624.00 444.00,627.20 437.00,626.40" fill="#d99a94" stroke="#b46c6a" stroke-width="0.4" stroke-linejoin="round"/>
<path d="M429.0 624.0 C427.0 628.0 427.5 632.0 427.8 637.8 M440.6 623.0 C441.5 626.5 441.5 630.0 441.2 633.4" stroke="#3158b8" fill="none" stroke-width="1.4"/>
<text x="398.50" y="523.40" font-size="8.4" text-anchor="start" fill="#231f20" stroke="#231f20" stroke-width="0.22" textLength="18.5" lengthAdjust="spacingAndGlyphs">W491</text>
<text x="388.80" y="559.80" font-size="8.4" text-anchor="start" fill="#231f20" stroke="#231f20" stroke-width="0.22" textLength="18.2" lengthAdjust="spacingAndGlyphs" style="font-style:italic">W498</text>
<line x1="407.00" y1="558.00" x2="427.00" y2="561.00" stroke="#111" stroke-width="0.9"/>
<text x="459.60" y="569.00" font-size="8.4" text-anchor="start" fill="#8fcfd1" stroke="#8fcfd1" stroke-width="0.22" textLength="17.4" lengthAdjust="spacingAndGlyphs">H499</text>
<text x="459.60" y="593.80" font-size="8.4" text-anchor="start" fill="#231f20" stroke="#231f20" stroke-width="0.22" textLength="15.4" lengthAdjust="spacingAndGlyphs">S505</text>
<line x1="438.00" y1="586.00" x2="458.40" y2="590.60" stroke="#111" stroke-width="0.9"/>
<text x="451.60" y="629.20" font-size="8.4" text-anchor="start" fill="#d26f8e" stroke="#d26f8e" stroke-width="0.22" textLength="18.4" lengthAdjust="spacingAndGlyphs">W515</text>
<text x="440.00" y="648.60" font-size="8.4" text-anchor="middle" fill="#231f20" stroke="#231f20" stroke-width="0.22" textLength="93.3" lengthAdjust="spacingAndGlyphs">TpoR L498W active TM-dimer</text>
</svg></div></body></html>
